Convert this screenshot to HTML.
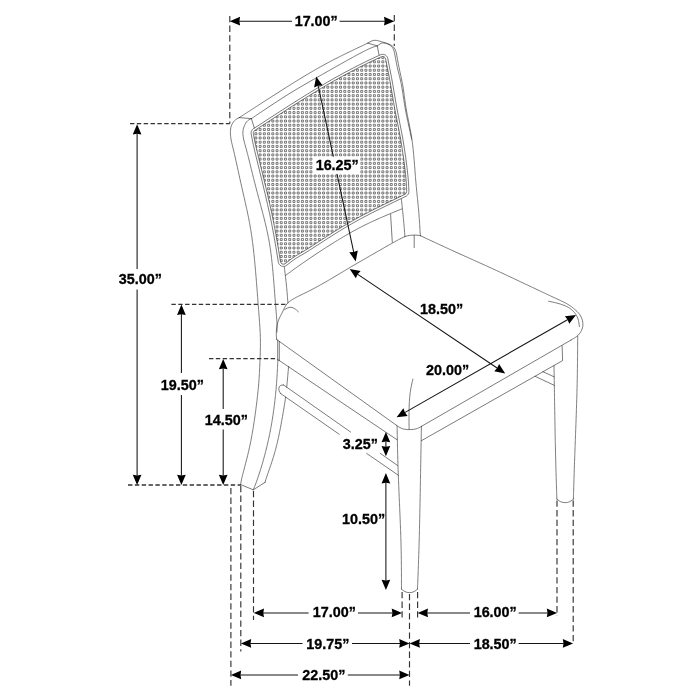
<!DOCTYPE html>
<html>
<head>
<meta charset="utf-8">
<title>Chair dimensions</title>
<style>
html,body{margin:0;padding:0;background:#fff;}
body{width:700px;height:700px;overflow:hidden;}
svg{display:block;will-change:transform;}
text{font-family:"Liberation Sans",sans-serif;font-weight:bold;font-size:14px;fill:#000;stroke:#000;stroke-width:0.3px;text-anchor:middle;}
</style>
</head>
<body>
<svg width="700" height="700" viewBox="0 0 700 700">
<rect width="700" height="700" fill="#fff"/>
<clipPath id="cc"><path d="M254.71 130.48 L254.13 130.97 L253.7 131.56 L253.42 132.23 L253.34 132.66 L253.32 133.1 L253.36 133.56 L254.08 137.59 L254.99 142.2 L255.82 145.99 L257.16 151.65 L264.11 180.23 L267.19 193.07 L269.74 204.11 L271.8 213.47 L273.81 223.25 L275.89 234.37 L278.3 248.26 L280.5 261.82 L280.74 262.52 L281.14 263.14 L281.68 263.65 L282.33 264.01 L283.05 264.19 L283.79 264.2 L284.51 264.02 L285.04 263.75 L291.06 259.11 L293.73 257.21 L295.49 256.05 L298.1 254.47 L303.86 251.12 L306.65 249.41 L312.22 245.88 L326.9 236.37 L334.46 231.56 L341.86 227.01 L349.61 222.44 L355.09 219.35 L359.92 216.71 L364.98 214.03 L371.21 210.82 L383.87 204.53 L405.01 194.3 L405.42 194.06 L405.88 193.67 L406.16 193.32 L406.45 192.8 L406.64 192.23 L406.7 191.63 L406.51 186.38 L406.11 180.19 L405.56 174.35 L404.67 166.61 L403.57 158.21 L402.33 149.63 L401.17 142.36 L400.25 137.05 L399.27 131.78 L395.97 115.28 L394.67 108.42 L393.41 101.29 L390.67 85.11 L389.62 79.22 L388.54 73.59 L385.64 58.99 L385.41 58.27 L385.02 57.64 L384.5 57.13 L383.87 56.76 L383.31 56.59 L382.73 56.52 L382.14 56.57 L381.58 56.73 L374.18 60.07 L368.77 62.63 L359.35 67.31 L349.83 72.23 L341.41 76.75 L333.39 81.23 L326.41 85.27 L318.02 90.25 L309.16 95.63 L300.52 100.98 L292.13 106.27 L283.22 111.98 Z"/></clipPath>
<path d="M377.61 56.57h2v2h-2zM381.84 56.57h2v2h-2zM369.15 60.81h2v2h-2zM373.38 60.81h2v2h-2zM377.61 60.81h2v2h-2zM381.84 60.81h2v2h-2zM386.07 60.81h2v2h-2zM360.68 65.04h2v2h-2zM364.91 65.04h2v2h-2zM369.15 65.04h2v2h-2zM373.38 65.04h2v2h-2zM377.61 65.04h2v2h-2zM381.84 65.04h2v2h-2zM386.07 65.04h2v2h-2zM352.22 69.27h2v2h-2zM356.45 69.27h2v2h-2zM360.68 69.27h2v2h-2zM364.91 69.27h2v2h-2zM369.15 69.27h2v2h-2zM373.38 69.27h2v2h-2zM377.61 69.27h2v2h-2zM381.84 69.27h2v2h-2zM386.07 69.27h2v2h-2zM343.75 73.5h2v2h-2zM347.99 73.5h2v2h-2zM352.22 73.5h2v2h-2zM356.45 73.5h2v2h-2zM360.68 73.5h2v2h-2zM364.91 73.5h2v2h-2zM369.15 73.5h2v2h-2zM373.38 73.5h2v2h-2zM377.61 73.5h2v2h-2zM381.84 73.5h2v2h-2zM386.07 73.5h2v2h-2zM335.29 77.73h2v2h-2zM339.52 77.73h2v2h-2zM343.75 77.73h2v2h-2zM347.99 77.73h2v2h-2zM352.22 77.73h2v2h-2zM356.45 77.73h2v2h-2zM360.68 77.73h2v2h-2zM364.91 77.73h2v2h-2zM369.15 77.73h2v2h-2zM373.38 77.73h2v2h-2zM377.61 77.73h2v2h-2zM381.84 77.73h2v2h-2zM386.07 77.73h2v2h-2zM326.83 81.97h2v2h-2zM331.06 81.97h2v2h-2zM335.29 81.97h2v2h-2zM339.52 81.97h2v2h-2zM343.75 81.97h2v2h-2zM347.99 81.97h2v2h-2zM352.22 81.97h2v2h-2zM356.45 81.97h2v2h-2zM360.68 81.97h2v2h-2zM364.91 81.97h2v2h-2zM369.15 81.97h2v2h-2zM373.38 81.97h2v2h-2zM377.61 81.97h2v2h-2zM381.84 81.97h2v2h-2zM386.07 81.97h2v2h-2zM390.31 81.97h2v2h-2zM322.59 86.2h2v2h-2zM326.83 86.2h2v2h-2zM331.06 86.2h2v2h-2zM335.29 86.2h2v2h-2zM339.52 86.2h2v2h-2zM343.75 86.2h2v2h-2zM347.99 86.2h2v2h-2zM352.22 86.2h2v2h-2zM356.45 86.2h2v2h-2zM360.68 86.2h2v2h-2zM364.91 86.2h2v2h-2zM369.15 86.2h2v2h-2zM373.38 86.2h2v2h-2zM377.61 86.2h2v2h-2zM381.84 86.2h2v2h-2zM386.07 86.2h2v2h-2zM390.31 86.2h2v2h-2zM314.13 90.43h2v2h-2zM318.36 90.43h2v2h-2zM322.59 90.43h2v2h-2zM326.83 90.43h2v2h-2zM331.06 90.43h2v2h-2zM335.29 90.43h2v2h-2zM339.52 90.43h2v2h-2zM343.75 90.43h2v2h-2zM347.99 90.43h2v2h-2zM352.22 90.43h2v2h-2zM356.45 90.43h2v2h-2zM360.68 90.43h2v2h-2zM364.91 90.43h2v2h-2zM369.15 90.43h2v2h-2zM373.38 90.43h2v2h-2zM377.61 90.43h2v2h-2zM381.84 90.43h2v2h-2zM386.07 90.43h2v2h-2zM390.31 90.43h2v2h-2zM305.67 94.66h2v2h-2zM309.9 94.66h2v2h-2zM314.13 94.66h2v2h-2zM318.36 94.66h2v2h-2zM322.59 94.66h2v2h-2zM326.83 94.66h2v2h-2zM331.06 94.66h2v2h-2zM335.29 94.66h2v2h-2zM339.52 94.66h2v2h-2zM343.75 94.66h2v2h-2zM347.99 94.66h2v2h-2zM352.22 94.66h2v2h-2zM356.45 94.66h2v2h-2zM360.68 94.66h2v2h-2zM364.91 94.66h2v2h-2zM369.15 94.66h2v2h-2zM373.38 94.66h2v2h-2zM377.61 94.66h2v2h-2zM381.84 94.66h2v2h-2zM386.07 94.66h2v2h-2zM390.31 94.66h2v2h-2zM301.43 98.89h2v2h-2zM305.67 98.89h2v2h-2zM309.9 98.89h2v2h-2zM314.13 98.89h2v2h-2zM318.36 98.89h2v2h-2zM322.59 98.89h2v2h-2zM326.83 98.89h2v2h-2zM331.06 98.89h2v2h-2zM335.29 98.89h2v2h-2zM339.52 98.89h2v2h-2zM343.75 98.89h2v2h-2zM347.99 98.89h2v2h-2zM352.22 98.89h2v2h-2zM356.45 98.89h2v2h-2zM360.68 98.89h2v2h-2zM364.91 98.89h2v2h-2zM369.15 98.89h2v2h-2zM373.38 98.89h2v2h-2zM377.61 98.89h2v2h-2zM381.84 98.89h2v2h-2zM386.07 98.89h2v2h-2zM390.31 98.89h2v2h-2zM292.97 103.13h2v2h-2zM297.2 103.13h2v2h-2zM301.43 103.13h2v2h-2zM305.67 103.13h2v2h-2zM309.9 103.13h2v2h-2zM314.13 103.13h2v2h-2zM318.36 103.13h2v2h-2zM322.59 103.13h2v2h-2zM326.83 103.13h2v2h-2zM331.06 103.13h2v2h-2zM335.29 103.13h2v2h-2zM339.52 103.13h2v2h-2zM343.75 103.13h2v2h-2zM347.99 103.13h2v2h-2zM352.22 103.13h2v2h-2zM356.45 103.13h2v2h-2zM360.68 103.13h2v2h-2zM364.91 103.13h2v2h-2zM369.15 103.13h2v2h-2zM373.38 103.13h2v2h-2zM377.61 103.13h2v2h-2zM381.84 103.13h2v2h-2zM386.07 103.13h2v2h-2zM390.31 103.13h2v2h-2zM394.54 103.13h2v2h-2zM284.51 107.36h2v2h-2zM288.74 107.36h2v2h-2zM292.97 107.36h2v2h-2zM297.2 107.36h2v2h-2zM301.43 107.36h2v2h-2zM305.67 107.36h2v2h-2zM309.9 107.36h2v2h-2zM314.13 107.36h2v2h-2zM318.36 107.36h2v2h-2zM322.59 107.36h2v2h-2zM326.83 107.36h2v2h-2zM331.06 107.36h2v2h-2zM335.29 107.36h2v2h-2zM339.52 107.36h2v2h-2zM343.75 107.36h2v2h-2zM347.99 107.36h2v2h-2zM352.22 107.36h2v2h-2zM356.45 107.36h2v2h-2zM360.68 107.36h2v2h-2zM364.91 107.36h2v2h-2zM369.15 107.36h2v2h-2zM373.38 107.36h2v2h-2zM377.61 107.36h2v2h-2zM381.84 107.36h2v2h-2zM386.07 107.36h2v2h-2zM390.31 107.36h2v2h-2zM394.54 107.36h2v2h-2zM280.27 111.59h2v2h-2zM284.51 111.59h2v2h-2zM288.74 111.59h2v2h-2zM292.97 111.59h2v2h-2zM297.2 111.59h2v2h-2zM301.43 111.59h2v2h-2zM305.67 111.59h2v2h-2zM309.9 111.59h2v2h-2zM314.13 111.59h2v2h-2zM318.36 111.59h2v2h-2zM322.59 111.59h2v2h-2zM326.83 111.59h2v2h-2zM331.06 111.59h2v2h-2zM335.29 111.59h2v2h-2zM339.52 111.59h2v2h-2zM343.75 111.59h2v2h-2zM347.99 111.59h2v2h-2zM352.22 111.59h2v2h-2zM356.45 111.59h2v2h-2zM360.68 111.59h2v2h-2zM364.91 111.59h2v2h-2zM369.15 111.59h2v2h-2zM373.38 111.59h2v2h-2zM377.61 111.59h2v2h-2zM381.84 111.59h2v2h-2zM386.07 111.59h2v2h-2zM390.31 111.59h2v2h-2zM394.54 111.59h2v2h-2zM271.81 115.82h2v2h-2zM276.04 115.82h2v2h-2zM280.27 115.82h2v2h-2zM284.51 115.82h2v2h-2zM288.74 115.82h2v2h-2zM292.97 115.82h2v2h-2zM297.2 115.82h2v2h-2zM301.43 115.82h2v2h-2zM305.67 115.82h2v2h-2zM309.9 115.82h2v2h-2zM314.13 115.82h2v2h-2zM318.36 115.82h2v2h-2zM322.59 115.82h2v2h-2zM326.83 115.82h2v2h-2zM331.06 115.82h2v2h-2zM335.29 115.82h2v2h-2zM339.52 115.82h2v2h-2zM343.75 115.82h2v2h-2zM347.99 115.82h2v2h-2zM352.22 115.82h2v2h-2zM356.45 115.82h2v2h-2zM360.68 115.82h2v2h-2zM364.91 115.82h2v2h-2zM369.15 115.82h2v2h-2zM373.38 115.82h2v2h-2zM377.61 115.82h2v2h-2zM381.84 115.82h2v2h-2zM386.07 115.82h2v2h-2zM390.31 115.82h2v2h-2zM394.54 115.82h2v2h-2zM267.58 120.05h2v2h-2zM271.81 120.05h2v2h-2zM276.04 120.05h2v2h-2zM280.27 120.05h2v2h-2zM284.51 120.05h2v2h-2zM288.74 120.05h2v2h-2zM292.97 120.05h2v2h-2zM297.2 120.05h2v2h-2zM301.43 120.05h2v2h-2zM305.67 120.05h2v2h-2zM309.9 120.05h2v2h-2zM314.13 120.05h2v2h-2zM318.36 120.05h2v2h-2zM322.59 120.05h2v2h-2zM326.83 120.05h2v2h-2zM331.06 120.05h2v2h-2zM335.29 120.05h2v2h-2zM339.52 120.05h2v2h-2zM343.75 120.05h2v2h-2zM347.99 120.05h2v2h-2zM352.22 120.05h2v2h-2zM356.45 120.05h2v2h-2zM360.68 120.05h2v2h-2zM364.91 120.05h2v2h-2zM369.15 120.05h2v2h-2zM373.38 120.05h2v2h-2zM377.61 120.05h2v2h-2zM381.84 120.05h2v2h-2zM386.07 120.05h2v2h-2zM390.31 120.05h2v2h-2zM394.54 120.05h2v2h-2zM259.11 124.29h2v2h-2zM263.35 124.29h2v2h-2zM267.58 124.29h2v2h-2zM271.81 124.29h2v2h-2zM276.04 124.29h2v2h-2zM280.27 124.29h2v2h-2zM284.51 124.29h2v2h-2zM288.74 124.29h2v2h-2zM292.97 124.29h2v2h-2zM297.2 124.29h2v2h-2zM301.43 124.29h2v2h-2zM305.67 124.29h2v2h-2zM309.9 124.29h2v2h-2zM314.13 124.29h2v2h-2zM318.36 124.29h2v2h-2zM322.59 124.29h2v2h-2zM326.83 124.29h2v2h-2zM331.06 124.29h2v2h-2zM335.29 124.29h2v2h-2zM339.52 124.29h2v2h-2zM343.75 124.29h2v2h-2zM347.99 124.29h2v2h-2zM352.22 124.29h2v2h-2zM356.45 124.29h2v2h-2zM360.68 124.29h2v2h-2zM364.91 124.29h2v2h-2zM369.15 124.29h2v2h-2zM373.38 124.29h2v2h-2zM377.61 124.29h2v2h-2zM381.84 124.29h2v2h-2zM386.07 124.29h2v2h-2zM390.31 124.29h2v2h-2zM394.54 124.29h2v2h-2zM254.88 128.52h2v2h-2zM259.11 128.52h2v2h-2zM263.35 128.52h2v2h-2zM267.58 128.52h2v2h-2zM271.81 128.52h2v2h-2zM276.04 128.52h2v2h-2zM280.27 128.52h2v2h-2zM284.51 128.52h2v2h-2zM288.74 128.52h2v2h-2zM292.97 128.52h2v2h-2zM297.2 128.52h2v2h-2zM301.43 128.52h2v2h-2zM305.67 128.52h2v2h-2zM309.9 128.52h2v2h-2zM314.13 128.52h2v2h-2zM318.36 128.52h2v2h-2zM322.59 128.52h2v2h-2zM326.83 128.52h2v2h-2zM331.06 128.52h2v2h-2zM335.29 128.52h2v2h-2zM339.52 128.52h2v2h-2zM343.75 128.52h2v2h-2zM347.99 128.52h2v2h-2zM352.22 128.52h2v2h-2zM356.45 128.52h2v2h-2zM360.68 128.52h2v2h-2zM364.91 128.52h2v2h-2zM369.15 128.52h2v2h-2zM373.38 128.52h2v2h-2zM377.61 128.52h2v2h-2zM381.84 128.52h2v2h-2zM386.07 128.52h2v2h-2zM390.31 128.52h2v2h-2zM394.54 128.52h2v2h-2zM398.77 128.52h2v2h-2zM254.88 132.75h2v2h-2zM259.11 132.75h2v2h-2zM263.35 132.75h2v2h-2zM267.58 132.75h2v2h-2zM271.81 132.75h2v2h-2zM276.04 132.75h2v2h-2zM280.27 132.75h2v2h-2zM284.51 132.75h2v2h-2zM288.74 132.75h2v2h-2zM292.97 132.75h2v2h-2zM297.2 132.75h2v2h-2zM301.43 132.75h2v2h-2zM305.67 132.75h2v2h-2zM309.9 132.75h2v2h-2zM314.13 132.75h2v2h-2zM318.36 132.75h2v2h-2zM322.59 132.75h2v2h-2zM326.83 132.75h2v2h-2zM331.06 132.75h2v2h-2zM335.29 132.75h2v2h-2zM339.52 132.75h2v2h-2zM343.75 132.75h2v2h-2zM347.99 132.75h2v2h-2zM352.22 132.75h2v2h-2zM356.45 132.75h2v2h-2zM360.68 132.75h2v2h-2zM364.91 132.75h2v2h-2zM369.15 132.75h2v2h-2zM373.38 132.75h2v2h-2zM377.61 132.75h2v2h-2zM381.84 132.75h2v2h-2zM386.07 132.75h2v2h-2zM390.31 132.75h2v2h-2zM394.54 132.75h2v2h-2zM398.77 132.75h2v2h-2zM254.88 136.98h2v2h-2zM259.11 136.98h2v2h-2zM263.35 136.98h2v2h-2zM267.58 136.98h2v2h-2zM271.81 136.98h2v2h-2zM276.04 136.98h2v2h-2zM280.27 136.98h2v2h-2zM284.51 136.98h2v2h-2zM288.74 136.98h2v2h-2zM292.97 136.98h2v2h-2zM297.2 136.98h2v2h-2zM301.43 136.98h2v2h-2zM305.67 136.98h2v2h-2zM309.9 136.98h2v2h-2zM314.13 136.98h2v2h-2zM318.36 136.98h2v2h-2zM322.59 136.98h2v2h-2zM326.83 136.98h2v2h-2zM331.06 136.98h2v2h-2zM335.29 136.98h2v2h-2zM339.52 136.98h2v2h-2zM343.75 136.98h2v2h-2zM347.99 136.98h2v2h-2zM352.22 136.98h2v2h-2zM356.45 136.98h2v2h-2zM360.68 136.98h2v2h-2zM364.91 136.98h2v2h-2zM369.15 136.98h2v2h-2zM373.38 136.98h2v2h-2zM377.61 136.98h2v2h-2zM381.84 136.98h2v2h-2zM386.07 136.98h2v2h-2zM390.31 136.98h2v2h-2zM394.54 136.98h2v2h-2zM398.77 136.98h2v2h-2zM254.88 141.21h2v2h-2zM259.11 141.21h2v2h-2zM263.35 141.21h2v2h-2zM267.58 141.21h2v2h-2zM271.81 141.21h2v2h-2zM276.04 141.21h2v2h-2zM280.27 141.21h2v2h-2zM284.51 141.21h2v2h-2zM288.74 141.21h2v2h-2zM292.97 141.21h2v2h-2zM297.2 141.21h2v2h-2zM301.43 141.21h2v2h-2zM305.67 141.21h2v2h-2zM309.9 141.21h2v2h-2zM314.13 141.21h2v2h-2zM318.36 141.21h2v2h-2zM322.59 141.21h2v2h-2zM326.83 141.21h2v2h-2zM331.06 141.21h2v2h-2zM335.29 141.21h2v2h-2zM339.52 141.21h2v2h-2zM343.75 141.21h2v2h-2zM347.99 141.21h2v2h-2zM352.22 141.21h2v2h-2zM356.45 141.21h2v2h-2zM360.68 141.21h2v2h-2zM364.91 141.21h2v2h-2zM369.15 141.21h2v2h-2zM373.38 141.21h2v2h-2zM377.61 141.21h2v2h-2zM381.84 141.21h2v2h-2zM386.07 141.21h2v2h-2zM390.31 141.21h2v2h-2zM394.54 141.21h2v2h-2zM398.77 141.21h2v2h-2zM254.88 145.45h2v2h-2zM259.11 145.45h2v2h-2zM263.35 145.45h2v2h-2zM267.58 145.45h2v2h-2zM271.81 145.45h2v2h-2zM276.04 145.45h2v2h-2zM280.27 145.45h2v2h-2zM284.51 145.45h2v2h-2zM288.74 145.45h2v2h-2zM292.97 145.45h2v2h-2zM297.2 145.45h2v2h-2zM301.43 145.45h2v2h-2zM305.67 145.45h2v2h-2zM309.9 145.45h2v2h-2zM314.13 145.45h2v2h-2zM318.36 145.45h2v2h-2zM322.59 145.45h2v2h-2zM326.83 145.45h2v2h-2zM331.06 145.45h2v2h-2zM335.29 145.45h2v2h-2zM339.52 145.45h2v2h-2zM343.75 145.45h2v2h-2zM347.99 145.45h2v2h-2zM352.22 145.45h2v2h-2zM356.45 145.45h2v2h-2zM360.68 145.45h2v2h-2zM364.91 145.45h2v2h-2zM369.15 145.45h2v2h-2zM373.38 145.45h2v2h-2zM377.61 145.45h2v2h-2zM381.84 145.45h2v2h-2zM386.07 145.45h2v2h-2zM390.31 145.45h2v2h-2zM394.54 145.45h2v2h-2zM398.77 145.45h2v2h-2zM254.88 149.68h2v2h-2zM259.11 149.68h2v2h-2zM263.35 149.68h2v2h-2zM267.58 149.68h2v2h-2zM271.81 149.68h2v2h-2zM276.04 149.68h2v2h-2zM280.27 149.68h2v2h-2zM284.51 149.68h2v2h-2zM288.74 149.68h2v2h-2zM292.97 149.68h2v2h-2zM297.2 149.68h2v2h-2zM301.43 149.68h2v2h-2zM305.67 149.68h2v2h-2zM309.9 149.68h2v2h-2zM314.13 149.68h2v2h-2zM318.36 149.68h2v2h-2zM322.59 149.68h2v2h-2zM326.83 149.68h2v2h-2zM331.06 149.68h2v2h-2zM335.29 149.68h2v2h-2zM339.52 149.68h2v2h-2zM343.75 149.68h2v2h-2zM347.99 149.68h2v2h-2zM352.22 149.68h2v2h-2zM356.45 149.68h2v2h-2zM360.68 149.68h2v2h-2zM364.91 149.68h2v2h-2zM369.15 149.68h2v2h-2zM373.38 149.68h2v2h-2zM377.61 149.68h2v2h-2zM381.84 149.68h2v2h-2zM386.07 149.68h2v2h-2zM390.31 149.68h2v2h-2zM394.54 149.68h2v2h-2zM398.77 149.68h2v2h-2zM403 149.68h2v2h-2zM259.11 153.91h2v2h-2zM263.35 153.91h2v2h-2zM267.58 153.91h2v2h-2zM271.81 153.91h2v2h-2zM276.04 153.91h2v2h-2zM280.27 153.91h2v2h-2zM284.51 153.91h2v2h-2zM288.74 153.91h2v2h-2zM292.97 153.91h2v2h-2zM297.2 153.91h2v2h-2zM301.43 153.91h2v2h-2zM305.67 153.91h2v2h-2zM309.9 153.91h2v2h-2zM314.13 153.91h2v2h-2zM318.36 153.91h2v2h-2zM322.59 153.91h2v2h-2zM326.83 153.91h2v2h-2zM331.06 153.91h2v2h-2zM335.29 153.91h2v2h-2zM339.52 153.91h2v2h-2zM343.75 153.91h2v2h-2zM347.99 153.91h2v2h-2zM352.22 153.91h2v2h-2zM356.45 153.91h2v2h-2zM360.68 153.91h2v2h-2zM364.91 153.91h2v2h-2zM369.15 153.91h2v2h-2zM373.38 153.91h2v2h-2zM377.61 153.91h2v2h-2zM381.84 153.91h2v2h-2zM386.07 153.91h2v2h-2zM390.31 153.91h2v2h-2zM394.54 153.91h2v2h-2zM398.77 153.91h2v2h-2zM403 153.91h2v2h-2zM259.11 158.14h2v2h-2zM263.35 158.14h2v2h-2zM267.58 158.14h2v2h-2zM271.81 158.14h2v2h-2zM276.04 158.14h2v2h-2zM280.27 158.14h2v2h-2zM284.51 158.14h2v2h-2zM288.74 158.14h2v2h-2zM292.97 158.14h2v2h-2zM297.2 158.14h2v2h-2zM301.43 158.14h2v2h-2zM305.67 158.14h2v2h-2zM309.9 158.14h2v2h-2zM314.13 158.14h2v2h-2zM318.36 158.14h2v2h-2zM322.59 158.14h2v2h-2zM326.83 158.14h2v2h-2zM331.06 158.14h2v2h-2zM335.29 158.14h2v2h-2zM339.52 158.14h2v2h-2zM343.75 158.14h2v2h-2zM347.99 158.14h2v2h-2zM352.22 158.14h2v2h-2zM356.45 158.14h2v2h-2zM360.68 158.14h2v2h-2zM364.91 158.14h2v2h-2zM369.15 158.14h2v2h-2zM373.38 158.14h2v2h-2zM377.61 158.14h2v2h-2zM381.84 158.14h2v2h-2zM386.07 158.14h2v2h-2zM390.31 158.14h2v2h-2zM394.54 158.14h2v2h-2zM398.77 158.14h2v2h-2zM403 158.14h2v2h-2zM259.11 162.37h2v2h-2zM263.35 162.37h2v2h-2zM267.58 162.37h2v2h-2zM271.81 162.37h2v2h-2zM276.04 162.37h2v2h-2zM280.27 162.37h2v2h-2zM284.51 162.37h2v2h-2zM288.74 162.37h2v2h-2zM292.97 162.37h2v2h-2zM297.2 162.37h2v2h-2zM301.43 162.37h2v2h-2zM305.67 162.37h2v2h-2zM309.9 162.37h2v2h-2zM314.13 162.37h2v2h-2zM318.36 162.37h2v2h-2zM322.59 162.37h2v2h-2zM326.83 162.37h2v2h-2zM331.06 162.37h2v2h-2zM335.29 162.37h2v2h-2zM339.52 162.37h2v2h-2zM343.75 162.37h2v2h-2zM347.99 162.37h2v2h-2zM352.22 162.37h2v2h-2zM356.45 162.37h2v2h-2zM360.68 162.37h2v2h-2zM364.91 162.37h2v2h-2zM369.15 162.37h2v2h-2zM373.38 162.37h2v2h-2zM377.61 162.37h2v2h-2zM381.84 162.37h2v2h-2zM386.07 162.37h2v2h-2zM390.31 162.37h2v2h-2zM394.54 162.37h2v2h-2zM398.77 162.37h2v2h-2zM403 162.37h2v2h-2zM259.11 166.61h2v2h-2zM263.35 166.61h2v2h-2zM267.58 166.61h2v2h-2zM271.81 166.61h2v2h-2zM276.04 166.61h2v2h-2zM280.27 166.61h2v2h-2zM284.51 166.61h2v2h-2zM288.74 166.61h2v2h-2zM292.97 166.61h2v2h-2zM297.2 166.61h2v2h-2zM301.43 166.61h2v2h-2zM305.67 166.61h2v2h-2zM309.9 166.61h2v2h-2zM314.13 166.61h2v2h-2zM318.36 166.61h2v2h-2zM322.59 166.61h2v2h-2zM326.83 166.61h2v2h-2zM331.06 166.61h2v2h-2zM335.29 166.61h2v2h-2zM339.52 166.61h2v2h-2zM343.75 166.61h2v2h-2zM347.99 166.61h2v2h-2zM352.22 166.61h2v2h-2zM356.45 166.61h2v2h-2zM360.68 166.61h2v2h-2zM364.91 166.61h2v2h-2zM369.15 166.61h2v2h-2zM373.38 166.61h2v2h-2zM377.61 166.61h2v2h-2zM381.84 166.61h2v2h-2zM386.07 166.61h2v2h-2zM390.31 166.61h2v2h-2zM394.54 166.61h2v2h-2zM398.77 166.61h2v2h-2zM403 166.61h2v2h-2zM263.35 170.84h2v2h-2zM267.58 170.84h2v2h-2zM271.81 170.84h2v2h-2zM276.04 170.84h2v2h-2zM280.27 170.84h2v2h-2zM284.51 170.84h2v2h-2zM288.74 170.84h2v2h-2zM292.97 170.84h2v2h-2zM297.2 170.84h2v2h-2zM301.43 170.84h2v2h-2zM305.67 170.84h2v2h-2zM309.9 170.84h2v2h-2zM314.13 170.84h2v2h-2zM318.36 170.84h2v2h-2zM322.59 170.84h2v2h-2zM326.83 170.84h2v2h-2zM331.06 170.84h2v2h-2zM335.29 170.84h2v2h-2zM339.52 170.84h2v2h-2zM343.75 170.84h2v2h-2zM347.99 170.84h2v2h-2zM352.22 170.84h2v2h-2zM356.45 170.84h2v2h-2zM360.68 170.84h2v2h-2zM364.91 170.84h2v2h-2zM369.15 170.84h2v2h-2zM373.38 170.84h2v2h-2zM377.61 170.84h2v2h-2zM381.84 170.84h2v2h-2zM386.07 170.84h2v2h-2zM390.31 170.84h2v2h-2zM394.54 170.84h2v2h-2zM398.77 170.84h2v2h-2zM403 170.84h2v2h-2zM263.35 175.07h2v2h-2zM267.58 175.07h2v2h-2zM271.81 175.07h2v2h-2zM276.04 175.07h2v2h-2zM280.27 175.07h2v2h-2zM284.51 175.07h2v2h-2zM288.74 175.07h2v2h-2zM292.97 175.07h2v2h-2zM297.2 175.07h2v2h-2zM301.43 175.07h2v2h-2zM305.67 175.07h2v2h-2zM309.9 175.07h2v2h-2zM314.13 175.07h2v2h-2zM318.36 175.07h2v2h-2zM322.59 175.07h2v2h-2zM326.83 175.07h2v2h-2zM331.06 175.07h2v2h-2zM335.29 175.07h2v2h-2zM339.52 175.07h2v2h-2zM343.75 175.07h2v2h-2zM347.99 175.07h2v2h-2zM352.22 175.07h2v2h-2zM356.45 175.07h2v2h-2zM360.68 175.07h2v2h-2zM364.91 175.07h2v2h-2zM369.15 175.07h2v2h-2zM373.38 175.07h2v2h-2zM377.61 175.07h2v2h-2zM381.84 175.07h2v2h-2zM386.07 175.07h2v2h-2zM390.31 175.07h2v2h-2zM394.54 175.07h2v2h-2zM398.77 175.07h2v2h-2zM403 175.07h2v2h-2zM263.35 179.3h2v2h-2zM267.58 179.3h2v2h-2zM271.81 179.3h2v2h-2zM276.04 179.3h2v2h-2zM280.27 179.3h2v2h-2zM284.51 179.3h2v2h-2zM288.74 179.3h2v2h-2zM292.97 179.3h2v2h-2zM297.2 179.3h2v2h-2zM301.43 179.3h2v2h-2zM305.67 179.3h2v2h-2zM309.9 179.3h2v2h-2zM314.13 179.3h2v2h-2zM318.36 179.3h2v2h-2zM322.59 179.3h2v2h-2zM326.83 179.3h2v2h-2zM331.06 179.3h2v2h-2zM335.29 179.3h2v2h-2zM339.52 179.3h2v2h-2zM343.75 179.3h2v2h-2zM347.99 179.3h2v2h-2zM352.22 179.3h2v2h-2zM356.45 179.3h2v2h-2zM360.68 179.3h2v2h-2zM364.91 179.3h2v2h-2zM369.15 179.3h2v2h-2zM373.38 179.3h2v2h-2zM377.61 179.3h2v2h-2zM381.84 179.3h2v2h-2zM386.07 179.3h2v2h-2zM390.31 179.3h2v2h-2zM394.54 179.3h2v2h-2zM398.77 179.3h2v2h-2zM403 179.3h2v2h-2zM263.35 183.53h2v2h-2zM267.58 183.53h2v2h-2zM271.81 183.53h2v2h-2zM276.04 183.53h2v2h-2zM280.27 183.53h2v2h-2zM284.51 183.53h2v2h-2zM288.74 183.53h2v2h-2zM292.97 183.53h2v2h-2zM297.2 183.53h2v2h-2zM301.43 183.53h2v2h-2zM305.67 183.53h2v2h-2zM309.9 183.53h2v2h-2zM314.13 183.53h2v2h-2zM318.36 183.53h2v2h-2zM322.59 183.53h2v2h-2zM326.83 183.53h2v2h-2zM331.06 183.53h2v2h-2zM335.29 183.53h2v2h-2zM339.52 183.53h2v2h-2zM343.75 183.53h2v2h-2zM347.99 183.53h2v2h-2zM352.22 183.53h2v2h-2zM356.45 183.53h2v2h-2zM360.68 183.53h2v2h-2zM364.91 183.53h2v2h-2zM369.15 183.53h2v2h-2zM373.38 183.53h2v2h-2zM377.61 183.53h2v2h-2zM381.84 183.53h2v2h-2zM386.07 183.53h2v2h-2zM390.31 183.53h2v2h-2zM394.54 183.53h2v2h-2zM398.77 183.53h2v2h-2zM403 183.53h2v2h-2zM267.58 187.77h2v2h-2zM271.81 187.77h2v2h-2zM276.04 187.77h2v2h-2zM280.27 187.77h2v2h-2zM284.51 187.77h2v2h-2zM288.74 187.77h2v2h-2zM292.97 187.77h2v2h-2zM297.2 187.77h2v2h-2zM301.43 187.77h2v2h-2zM305.67 187.77h2v2h-2zM309.9 187.77h2v2h-2zM314.13 187.77h2v2h-2zM318.36 187.77h2v2h-2zM322.59 187.77h2v2h-2zM326.83 187.77h2v2h-2zM331.06 187.77h2v2h-2zM335.29 187.77h2v2h-2zM339.52 187.77h2v2h-2zM343.75 187.77h2v2h-2zM347.99 187.77h2v2h-2zM352.22 187.77h2v2h-2zM356.45 187.77h2v2h-2zM360.68 187.77h2v2h-2zM364.91 187.77h2v2h-2zM369.15 187.77h2v2h-2zM373.38 187.77h2v2h-2zM377.61 187.77h2v2h-2zM381.84 187.77h2v2h-2zM386.07 187.77h2v2h-2zM390.31 187.77h2v2h-2zM394.54 187.77h2v2h-2zM398.77 187.77h2v2h-2zM403 187.77h2v2h-2zM267.58 192h2v2h-2zM271.81 192h2v2h-2zM276.04 192h2v2h-2zM280.27 192h2v2h-2zM284.51 192h2v2h-2zM288.74 192h2v2h-2zM292.97 192h2v2h-2zM297.2 192h2v2h-2zM301.43 192h2v2h-2zM305.67 192h2v2h-2zM309.9 192h2v2h-2zM314.13 192h2v2h-2zM318.36 192h2v2h-2zM322.59 192h2v2h-2zM326.83 192h2v2h-2zM331.06 192h2v2h-2zM335.29 192h2v2h-2zM339.52 192h2v2h-2zM343.75 192h2v2h-2zM347.99 192h2v2h-2zM352.22 192h2v2h-2zM356.45 192h2v2h-2zM360.68 192h2v2h-2zM364.91 192h2v2h-2zM369.15 192h2v2h-2zM373.38 192h2v2h-2zM377.61 192h2v2h-2zM381.84 192h2v2h-2zM386.07 192h2v2h-2zM390.31 192h2v2h-2zM394.54 192h2v2h-2zM398.77 192h2v2h-2zM403 192h2v2h-2zM267.58 196.23h2v2h-2zM271.81 196.23h2v2h-2zM276.04 196.23h2v2h-2zM280.27 196.23h2v2h-2zM284.51 196.23h2v2h-2zM288.74 196.23h2v2h-2zM292.97 196.23h2v2h-2zM297.2 196.23h2v2h-2zM301.43 196.23h2v2h-2zM305.67 196.23h2v2h-2zM309.9 196.23h2v2h-2zM314.13 196.23h2v2h-2zM318.36 196.23h2v2h-2zM322.59 196.23h2v2h-2zM326.83 196.23h2v2h-2zM331.06 196.23h2v2h-2zM335.29 196.23h2v2h-2zM339.52 196.23h2v2h-2zM343.75 196.23h2v2h-2zM347.99 196.23h2v2h-2zM352.22 196.23h2v2h-2zM356.45 196.23h2v2h-2zM360.68 196.23h2v2h-2zM364.91 196.23h2v2h-2zM369.15 196.23h2v2h-2zM373.38 196.23h2v2h-2zM377.61 196.23h2v2h-2zM381.84 196.23h2v2h-2zM386.07 196.23h2v2h-2zM390.31 196.23h2v2h-2zM394.54 196.23h2v2h-2zM398.77 196.23h2v2h-2zM267.58 200.46h2v2h-2zM271.81 200.46h2v2h-2zM276.04 200.46h2v2h-2zM280.27 200.46h2v2h-2zM284.51 200.46h2v2h-2zM288.74 200.46h2v2h-2zM292.97 200.46h2v2h-2zM297.2 200.46h2v2h-2zM301.43 200.46h2v2h-2zM305.67 200.46h2v2h-2zM309.9 200.46h2v2h-2zM314.13 200.46h2v2h-2zM318.36 200.46h2v2h-2zM322.59 200.46h2v2h-2zM326.83 200.46h2v2h-2zM331.06 200.46h2v2h-2zM335.29 200.46h2v2h-2zM339.52 200.46h2v2h-2zM343.75 200.46h2v2h-2zM347.99 200.46h2v2h-2zM352.22 200.46h2v2h-2zM356.45 200.46h2v2h-2zM360.68 200.46h2v2h-2zM364.91 200.46h2v2h-2zM369.15 200.46h2v2h-2zM373.38 200.46h2v2h-2zM377.61 200.46h2v2h-2zM381.84 200.46h2v2h-2zM386.07 200.46h2v2h-2zM390.31 200.46h2v2h-2zM267.58 204.69h2v2h-2zM271.81 204.69h2v2h-2zM276.04 204.69h2v2h-2zM280.27 204.69h2v2h-2zM284.51 204.69h2v2h-2zM288.74 204.69h2v2h-2zM292.97 204.69h2v2h-2zM297.2 204.69h2v2h-2zM301.43 204.69h2v2h-2zM305.67 204.69h2v2h-2zM309.9 204.69h2v2h-2zM314.13 204.69h2v2h-2zM318.36 204.69h2v2h-2zM322.59 204.69h2v2h-2zM326.83 204.69h2v2h-2zM331.06 204.69h2v2h-2zM335.29 204.69h2v2h-2zM339.52 204.69h2v2h-2zM343.75 204.69h2v2h-2zM347.99 204.69h2v2h-2zM352.22 204.69h2v2h-2zM356.45 204.69h2v2h-2zM360.68 204.69h2v2h-2zM364.91 204.69h2v2h-2zM369.15 204.69h2v2h-2zM373.38 204.69h2v2h-2zM377.61 204.69h2v2h-2zM381.84 204.69h2v2h-2zM271.81 208.93h2v2h-2zM276.04 208.93h2v2h-2zM280.27 208.93h2v2h-2zM284.51 208.93h2v2h-2zM288.74 208.93h2v2h-2zM292.97 208.93h2v2h-2zM297.2 208.93h2v2h-2zM301.43 208.93h2v2h-2zM305.67 208.93h2v2h-2zM309.9 208.93h2v2h-2zM314.13 208.93h2v2h-2zM318.36 208.93h2v2h-2zM322.59 208.93h2v2h-2zM326.83 208.93h2v2h-2zM331.06 208.93h2v2h-2zM335.29 208.93h2v2h-2zM339.52 208.93h2v2h-2zM343.75 208.93h2v2h-2zM347.99 208.93h2v2h-2zM352.22 208.93h2v2h-2zM356.45 208.93h2v2h-2zM360.68 208.93h2v2h-2zM364.91 208.93h2v2h-2zM369.15 208.93h2v2h-2zM373.38 208.93h2v2h-2zM271.81 213.16h2v2h-2zM276.04 213.16h2v2h-2zM280.27 213.16h2v2h-2zM284.51 213.16h2v2h-2zM288.74 213.16h2v2h-2zM292.97 213.16h2v2h-2zM297.2 213.16h2v2h-2zM301.43 213.16h2v2h-2zM305.67 213.16h2v2h-2zM309.9 213.16h2v2h-2zM314.13 213.16h2v2h-2zM318.36 213.16h2v2h-2zM322.59 213.16h2v2h-2zM326.83 213.16h2v2h-2zM331.06 213.16h2v2h-2zM335.29 213.16h2v2h-2zM339.52 213.16h2v2h-2zM343.75 213.16h2v2h-2zM347.99 213.16h2v2h-2zM352.22 213.16h2v2h-2zM356.45 213.16h2v2h-2zM360.68 213.16h2v2h-2zM364.91 213.16h2v2h-2zM271.81 217.39h2v2h-2zM276.04 217.39h2v2h-2zM280.27 217.39h2v2h-2zM284.51 217.39h2v2h-2zM288.74 217.39h2v2h-2zM292.97 217.39h2v2h-2zM297.2 217.39h2v2h-2zM301.43 217.39h2v2h-2zM305.67 217.39h2v2h-2zM309.9 217.39h2v2h-2zM314.13 217.39h2v2h-2zM318.36 217.39h2v2h-2zM322.59 217.39h2v2h-2zM326.83 217.39h2v2h-2zM331.06 217.39h2v2h-2zM335.29 217.39h2v2h-2zM339.52 217.39h2v2h-2zM343.75 217.39h2v2h-2zM347.99 217.39h2v2h-2zM352.22 217.39h2v2h-2zM356.45 217.39h2v2h-2zM271.81 221.62h2v2h-2zM276.04 221.62h2v2h-2zM280.27 221.62h2v2h-2zM284.51 221.62h2v2h-2zM288.74 221.62h2v2h-2zM292.97 221.62h2v2h-2zM297.2 221.62h2v2h-2zM301.43 221.62h2v2h-2zM305.67 221.62h2v2h-2zM309.9 221.62h2v2h-2zM314.13 221.62h2v2h-2zM318.36 221.62h2v2h-2zM322.59 221.62h2v2h-2zM326.83 221.62h2v2h-2zM331.06 221.62h2v2h-2zM335.29 221.62h2v2h-2zM339.52 221.62h2v2h-2zM343.75 221.62h2v2h-2zM347.99 221.62h2v2h-2zM276.04 225.85h2v2h-2zM280.27 225.85h2v2h-2zM284.51 225.85h2v2h-2zM288.74 225.85h2v2h-2zM292.97 225.85h2v2h-2zM297.2 225.85h2v2h-2zM301.43 225.85h2v2h-2zM305.67 225.85h2v2h-2zM309.9 225.85h2v2h-2zM314.13 225.85h2v2h-2zM318.36 225.85h2v2h-2zM322.59 225.85h2v2h-2zM326.83 225.85h2v2h-2zM331.06 225.85h2v2h-2zM335.29 225.85h2v2h-2zM339.52 225.85h2v2h-2zM343.75 225.85h2v2h-2zM276.04 230.09h2v2h-2zM280.27 230.09h2v2h-2zM284.51 230.09h2v2h-2zM288.74 230.09h2v2h-2zM292.97 230.09h2v2h-2zM297.2 230.09h2v2h-2zM301.43 230.09h2v2h-2zM305.67 230.09h2v2h-2zM309.9 230.09h2v2h-2zM314.13 230.09h2v2h-2zM318.36 230.09h2v2h-2zM322.59 230.09h2v2h-2zM326.83 230.09h2v2h-2zM331.06 230.09h2v2h-2zM335.29 230.09h2v2h-2zM276.04 234.32h2v2h-2zM280.27 234.32h2v2h-2zM284.51 234.32h2v2h-2zM288.74 234.32h2v2h-2zM292.97 234.32h2v2h-2zM297.2 234.32h2v2h-2zM301.43 234.32h2v2h-2zM305.67 234.32h2v2h-2zM309.9 234.32h2v2h-2zM314.13 234.32h2v2h-2zM318.36 234.32h2v2h-2zM322.59 234.32h2v2h-2zM326.83 234.32h2v2h-2zM331.06 234.32h2v2h-2zM276.04 238.55h2v2h-2zM280.27 238.55h2v2h-2zM284.51 238.55h2v2h-2zM288.74 238.55h2v2h-2zM292.97 238.55h2v2h-2zM297.2 238.55h2v2h-2zM301.43 238.55h2v2h-2zM305.67 238.55h2v2h-2zM309.9 238.55h2v2h-2zM314.13 238.55h2v2h-2zM318.36 238.55h2v2h-2zM322.59 238.55h2v2h-2zM276.04 242.78h2v2h-2zM280.27 242.78h2v2h-2zM284.51 242.78h2v2h-2zM288.74 242.78h2v2h-2zM292.97 242.78h2v2h-2zM297.2 242.78h2v2h-2zM301.43 242.78h2v2h-2zM305.67 242.78h2v2h-2zM309.9 242.78h2v2h-2zM314.13 242.78h2v2h-2zM276.04 247.01h2v2h-2zM280.27 247.01h2v2h-2zM284.51 247.01h2v2h-2zM288.74 247.01h2v2h-2zM292.97 247.01h2v2h-2zM297.2 247.01h2v2h-2zM301.43 247.01h2v2h-2zM305.67 247.01h2v2h-2zM309.9 247.01h2v2h-2zM280.27 251.25h2v2h-2zM284.51 251.25h2v2h-2zM288.74 251.25h2v2h-2zM292.97 251.25h2v2h-2zM297.2 251.25h2v2h-2zM301.43 251.25h2v2h-2zM280.27 255.48h2v2h-2zM284.51 255.48h2v2h-2zM288.74 255.48h2v2h-2zM292.97 255.48h2v2h-2zM297.2 255.48h2v2h-2zM280.27 259.71h2v2h-2zM284.51 259.71h2v2h-2zM288.74 259.71h2v2h-2zM280.27 263.94h2v2h-2zM284.51 263.94h2v2h-2z" fill="none" stroke="#3a3a3a" stroke-width="0.65" clip-path="url(#cc)"/>
<g fill="none" stroke="#222" stroke-width="0.6" stroke-linecap="round" stroke-linejoin="round">
<path d="M282.03 110.13 L253.08 128.95 L252.52 129.46 L251.9 130.26 L251.66 130.71 L251.37 131.41 L251.24 131.9 L251.13 132.65 L251.13 133.41 L251.19 133.92 L252.65 141.77 L253.45 145.48 L254.84 151.41 L261.97 180.75 L265.04 193.58 L267.59 204.6 L269.65 213.93 L271.65 223.67 L273.73 234.76 L275.94 247.52 L278.4 262.51 L278.76 263.48 L279 263.93 L279.45 264.56 L279.99 265.11 L280.39 265.43 L281.05 265.84 L281.52 266.05 L282.26 266.28 L282.77 266.37 L283.79 266.41 L284.56 266.3 L285.06 266.16 L285.77 265.87 L286.22 265.61 L292.37 260.88 L294.98 259.01 L296.67 257.9 L299.22 256.37 L304.99 253.01 L309.33 250.33 L330 237 L338.06 231.91 L344.67 227.89 L351.59 223.84 L357.1 220.75 L361.95 218.12 L367.01 215.45 L372.21 212.78 L384.84 206.51 L406.24 196.14 L406.89 195.71 L407.65 194.99 L408.11 194.36 L408.47 193.68 L408.79 192.69 L408.89 191.91 L408.9 191.39 L408.7 186.31 L408.51 182.79 L408.23 179.22 L407.84 175.03 L406.98 167.35 L405.75 157.9 L404.34 148.23 L403 140.01 L401.23 130.35 L398.13 114.85 L396.84 108.02 L395.58 100.92 L392.84 84.73 L391.56 77.65 L387.79 58.55 L387.6 57.82 L387.41 57.35 L387.04 56.68 L386.74 56.27 L386.22 55.71 L385.83 55.38 L385.41 55.09 L384.73 54.74 L383.77 54.43 L383.01 54.33 L382.25 54.34 L381.25 54.52 L380.53 54.79 L372.24 58.55 L363.74 62.65 L353.61 67.78 L344.05 72.81 L334.94 77.82 L327.05 82.35 L318.45 87.42 L309.66 92.74 L300.25 98.56 L291.92 103.8 Z"/>
<path d="M254.71 130.48 L254.13 130.97 L253.7 131.56 L253.42 132.23 L253.34 132.66 L253.32 133.1 L253.36 133.56 L254.08 137.59 L254.99 142.2 L255.82 145.99 L257.16 151.65 L264.11 180.23 L267.19 193.07 L269.74 204.11 L271.8 213.47 L273.81 223.25 L275.89 234.37 L278.3 248.26 L280.5 261.82 L280.74 262.52 L281.14 263.14 L281.68 263.65 L282.33 264.01 L283.05 264.19 L283.79 264.2 L284.51 264.02 L285.04 263.75 L291.06 259.11 L293.73 257.21 L295.49 256.05 L298.1 254.47 L303.86 251.12 L306.65 249.41 L312.22 245.88 L326.9 236.37 L334.46 231.56 L341.86 227.01 L349.61 222.44 L355.09 219.35 L359.92 216.71 L364.98 214.03 L371.21 210.82 L383.87 204.53 L405.01 194.3 L405.42 194.06 L405.88 193.67 L406.16 193.32 L406.45 192.8 L406.64 192.23 L406.7 191.63 L406.51 186.38 L406.11 180.19 L405.56 174.35 L404.67 166.61 L403.57 158.21 L402.33 149.63 L401.17 142.36 L400.25 137.05 L399.27 131.78 L395.97 115.28 L394.67 108.42 L393.41 101.29 L390.67 85.11 L389.62 79.22 L388.54 73.59 L385.64 58.99 L385.41 58.27 L385.02 57.64 L384.5 57.13 L383.87 56.76 L383.31 56.59 L382.73 56.52 L382.14 56.57 L381.58 56.73 L374.18 60.07 L368.77 62.63 L359.35 67.31 L349.83 72.23 L341.41 76.75 L333.39 81.23 L326.41 85.27 L318.02 90.25 L309.16 95.63 L300.52 100.98 L292.13 106.27 L283.22 111.98 Z"/>
<path d="M239.3 117.6 L237.98 118.26 L236.69 118.98 L235.5 119.8 L234.42 120.78 L233.45 121.92 L232.6 123.2 L232.06 124.19 L231.58 125.25 L231.17 126.4 L230.84 127.65 L230.6 129 L230.48 130.16 L230.42 131.37 L230.41 132.62 L230.45 133.9 L230.54 135.2 L230.66 136.49 L230.82 137.76 L231 139 L231.19 140.13 L231.41 141.24 L231.65 142.35 L231.9 143.47 L232.18 144.63 L232.48 145.84 L232.8 147.13 L233.14 148.51 L233.5 150 L233.71 150.88 L233.93 151.8 L234.15 152.76 L234.38 153.75 L234.61 154.77 L234.85 155.83 L235.1 156.91 L235.35 158.03 L235.61 159.17 L235.87 160.34 L236.13 161.53 L236.4 162.74 L236.67 163.97 L236.94 165.22 L237.22 166.49 L237.5 167.77 L237.79 169.07 L238.07 170.37 L238.36 171.69 L238.65 173.01 L238.94 174.34 L239.23 175.68 L239.53 177.01 L239.82 178.35 L240.12 179.69 L240.41 181.02 L240.71 182.36 L241 183.68 L241.3 185 L241.59 186.31 L241.89 187.61 L242.18 188.9 L242.47 190.18 L242.76 191.46 L243.05 192.72 L243.34 193.98 L243.62 195.23 L243.91 196.48 L244.19 197.71 L244.47 198.94 L244.75 200.16 L245.02 201.37 L245.29 202.58 L245.56 203.78 L245.83 204.98 L246.1 206.16 L246.36 207.35 L246.62 208.52 L246.87 209.69 L247.12 210.86 L247.37 212.02 L247.62 213.17 L247.86 214.32 L248.09 215.47 L248.33 216.61 L248.56 217.74 L248.78 218.87 L249 220 L249.23 221.2 L249.45 222.39 L249.67 223.59 L249.89 224.78 L250.1 225.96 L250.3 227.15 L250.5 228.33 L250.7 229.51 L250.89 230.7 L251.08 231.88 L251.26 233.06 L251.45 234.25 L251.62 235.43 L251.79 236.62 L251.96 237.81 L252.13 239.01 L252.29 240.21 L252.45 241.41 L252.61 242.62 L252.77 243.83 L252.92 245.05 L253.07 246.28 L253.21 247.51 L253.36 248.75 L253.5 250 L253.63 251.17 L253.76 252.34 L253.89 253.52 L254.01 254.7 L254.13 255.89 L254.26 257.09 L254.38 258.29 L254.5 259.49 L254.61 260.7 L254.73 261.92 L254.84 263.13 L254.96 264.35 L255.07 265.57 L255.18 266.79 L255.29 268.01 L255.4 269.23 L255.5 270.46 L255.61 271.68 L255.71 272.9 L255.82 274.12 L255.92 275.34 L256.02 276.56 L256.12 277.78 L256.22 278.99 L256.32 280.2 L256.41 281.41 L256.51 282.61 L256.61 283.81 L256.7 285 L256.8 286.27 L256.9 287.54 L257 288.8 L257.1 290.06 L257.19 291.31 L257.29 292.55 L257.39 293.79 L257.48 295.02 L257.57 296.24 L257.67 297.46 L257.76 298.67 L257.85 299.88 L257.94 301.08 L258.03 302.27 L258.12 303.46 L258.21 304.64 L258.3 305.82 L258.39 306.99 L258.48 308.15 L258.57 309.31 L258.65 310.46 L258.74 311.6 L258.83 312.74 L258.91 313.87 L259 315 L259.1 316.28 L259.19 317.55 L259.29 318.81 L259.38 320.07 L259.48 321.32 L259.57 322.57 L259.65 323.81 L259.74 325.06 L259.82 326.3 L259.9 327.53 L259.97 328.77 L260.04 330.01 L260.11 331.25 L260.17 332.49 L260.22 333.73 L260.27 334.98 L260.31 336.22 L260.35 337.48 L260.38 338.74 L260.4 340 L260.41 341.27 L260.42 342.54 L260.42 343.82 L260.42 345.1 L260.41 346.39 L260.39 347.67 L260.37 348.95 L260.34 350.23 L260.31 351.51 L260.27 352.79 L260.24 354.05 L260.19 355.31 L260.15 356.57 L260.1 357.81 L260.05 359.04 L260 360.26 L259.95 361.47 L259.9 362.66 L259.85 363.84 L259.8 365 L259.74 366.28 L259.69 367.54 L259.63 368.78 L259.57 370.01 L259.51 371.23 L259.45 372.45 L259.39 373.66 L259.32 374.88 L259.25 376.09 L259.17 377.32 L259.09 378.55 L259.01 379.8 L258.92 381.07 L258.82 382.35 L258.71 383.66 L258.6 385 L258.5 386.08 L258.4 387.18 L258.3 388.3 L258.19 389.44 L258.07 390.59 L257.95 391.76 L257.83 392.94 L257.7 394.13 L257.57 395.34 L257.43 396.56 L257.29 397.79 L257.15 399.03 L257 400.28 L256.85 401.53 L256.7 402.8 L256.54 404.07 L256.38 405.35 L256.22 406.63 L256.05 407.92 L255.88 409.21 L255.71 410.51 L255.54 411.81 L255.36 413.1 L255.18 414.4 L255 415.7 L254.84 416.87 L254.67 418.04 L254.5 419.21 L254.33 420.38 L254.16 421.55 L253.98 422.72 L253.8 423.89 L253.62 425.06 L253.44 426.23 L253.25 427.4 L253.06 428.58 L252.87 429.75 L252.67 430.93 L252.47 432.11 L252.27 433.29 L252.06 434.47 L251.84 435.66 L251.63 436.85 L251.4 438.04 L251.18 439.23 L250.94 440.43 L250.71 441.63 L250.46 442.84 L250.22 444.05 L249.96 445.26 L249.7 446.48 L249.44 447.7 L249.16 448.93 L248.89 450.16 L248.6 451.4 L248.27 452.8 L247.93 454.21 L247.59 455.61 L247.25 457.02 L246.9 458.42 L246.54 459.81 L246.19 461.19 L245.84 462.56 L245.49 463.91 L245.14 465.24 L244.8 466.54 L244.47 467.82 L244.14 469.07 L243.82 470.29 L243.51 471.47 L243.21 472.61 L242.93 473.71 L242.66 474.77 L242.4 475.78 L242.16 476.74 L241.94 477.64 L241.74 478.49 L241.56 479.28 L241.4 480 L241.04 481.9 L240.83 483.36 L240.7 484.6 M251.4 118.6 L250.05 119.24 L248.76 119.95 L247.6 120.8 L246.61 121.85 L245.76 123.09 L245 124.5 L244.48 125.61 L244 126.78 L243.57 128.03 L243.23 129.33 L243 130.7 L242.89 132.03 L242.88 133.4 L242.96 134.8 L243.12 136.2 L243.33 137.61 L243.6 139 L243.83 140.07 L244.09 141.15 L244.37 142.23 L244.66 143.36 L244.99 144.53 L245.33 145.76 L245.7 147.07 L246.09 148.48 L246.5 150 L246.73 150.86 L246.97 151.76 L247.21 152.69 L247.46 153.65 L247.71 154.64 L247.97 155.66 L248.24 156.71 L248.51 157.79 L248.79 158.89 L249.07 160.01 L249.35 161.15 L249.64 162.31 L249.93 163.49 L250.23 164.69 L250.53 165.91 L250.83 167.14 L251.14 168.38 L251.45 169.63 L251.76 170.89 L252.07 172.16 L252.39 173.44 L252.71 174.72 L253.03 176.01 L253.35 177.3 L253.67 178.59 L254 179.88 L254.32 181.16 L254.65 182.45 L254.97 183.73 L255.3 185 L255.63 186.27 L255.95 187.53 L256.28 188.78 L256.6 190.02 L256.93 191.26 L257.25 192.48 L257.57 193.71 L257.9 194.92 L258.22 196.13 L258.54 197.33 L258.86 198.52 L259.17 199.7 L259.49 200.88 L259.8 202.06 L260.12 203.22 L260.43 204.38 L260.73 205.54 L261.04 206.68 L261.34 207.82 L261.65 208.96 L261.94 210.09 L262.24 211.21 L262.53 212.33 L262.82 213.44 L263.11 214.55 L263.4 215.65 L263.68 216.74 L263.96 217.83 L264.23 218.92 L264.5 220 L264.79 221.19 L265.08 222.37 L265.37 223.54 L265.65 224.72 L265.93 225.89 L266.2 227.06 L266.46 228.22 L266.73 229.39 L266.98 230.56 L267.24 231.73 L267.49 232.9 L267.73 234.07 L267.97 235.25 L268.21 236.44 L268.44 237.62 L268.66 238.82 L268.89 240.02 L269.1 241.23 L269.32 242.45 L269.52 243.68 L269.73 244.92 L269.93 246.17 L270.12 247.43 L270.31 248.71 L270.5 250 L270.67 251.2 L270.83 252.41 L270.99 253.63 L271.15 254.86 L271.3 256.09 L271.45 257.34 L271.59 258.59 L271.74 259.85 L271.88 261.11 L272.01 262.37 L272.15 263.64 L272.28 264.91 L272.4 266.18 L272.53 267.46 L272.65 268.73 L272.77 269.99 L272.89 271.26 L273 272.52 L273.11 273.78 L273.22 275.03 L273.33 276.27 L273.43 277.51 L273.54 278.73 L273.64 279.95 L273.74 281.16 L273.83 282.35 L273.93 283.54 L274.02 284.71 L274.11 285.86 L274.2 287 L274.31 288.39 L274.42 289.76 L274.52 291.11 L274.62 292.43 L274.72 293.73 L274.82 295.01 L274.92 296.27 L275.02 297.51 L275.11 298.73 L275.2 299.93 L275.29 301.11 L275.38 302.27 L275.47 303.42 L275.56 304.55 L275.65 305.67 L275.74 306.77 L275.83 307.86 L275.91 308.94 L276 310 L276.12 311.42 L276.23 312.81 L276.34 314.18 L276.45 315.52 L276.56 316.83 L276.65 318.11 L276.74 319.36 L276.83 320.58 L276.9 321.76 L276.95 322.9 L277 324 L277.04 325.46 L277.06 326.85 L277.06 328.18 L277.05 329.48 L277.03 330.75 L277 332 M277.9 360 L277.84 361.22 L277.78 362.45 L277.72 363.67 L277.65 364.9 L277.59 366.12 L277.53 367.35 L277.46 368.58 L277.39 369.82 L277.33 371.06 L277.26 372.3 L277.18 373.54 L277.11 374.79 L277.03 376.05 L276.95 377.31 L276.87 378.57 L276.78 379.84 L276.69 381.12 L276.6 382.41 L276.5 383.7 L276.4 385 L276.31 386.16 L276.21 387.33 L276.11 388.51 L276.01 389.69 L275.9 390.87 L275.79 392.07 L275.67 393.26 L275.55 394.47 L275.43 395.68 L275.31 396.89 L275.18 398.11 L275.04 399.34 L274.9 400.57 L274.76 401.81 L274.61 403.05 L274.46 404.29 L274.31 405.54 L274.15 406.8 L273.98 408.06 L273.81 409.32 L273.64 410.59 L273.46 411.86 L273.28 413.14 L273.09 414.42 L272.9 415.7 L272.72 416.86 L272.54 418.03 L272.35 419.2 L272.16 420.38 L271.97 421.55 L271.77 422.73 L271.56 423.91 L271.36 425.09 L271.15 426.28 L270.93 427.46 L270.71 428.65 L270.49 429.84 L270.26 431.03 L270.02 432.23 L269.79 433.42 L269.55 434.62 L269.3 435.81 L269.05 437.01 L268.8 438.21 L268.54 439.41 L268.27 440.6 L268.01 441.8 L267.73 443 L267.46 444.2 L267.18 445.4 L266.89 446.6 L266.6 447.8 L266.3 449 L266 450.2 L265.7 451.4 L265.35 452.76 L264.99 454.11 L264.64 455.46 L264.27 456.8 L263.9 458.13 L263.53 459.46 L263.16 460.78 L262.79 462.08 L262.41 463.37 L262.04 464.65 L261.66 465.91 L261.29 467.14 L260.92 468.36 L260.55 469.56 L260.18 470.74 L259.81 471.89 L259.45 473.01 L259.1 474.11 L258.75 475.17 L258.4 476.21 L258.07 477.21 L257.74 478.18 L257.41 479.11 L257.1 480 L256.56 481.5 L256.05 482.88 L255.56 484.18 L255.09 485.4 L254.63 486.55 L254.18 487.66 L253.74 488.74 L253.3 489.8 M284.3 267.1 L284.45 268.29 L284.6 269.49 L284.75 270.68 L284.9 271.87 L285.04 273.06 L285.19 274.26 L285.33 275.45 L285.48 276.64 L285.62 277.84 L285.76 279.03 L285.89 280.22 L286.02 281.42 L286.15 282.61 L286.28 283.81 L286.4 285 L286.53 286.28 L286.65 287.56 L286.77 288.83 L286.88 290.11 L286.99 291.39 L287.1 292.67 L287.21 293.95 L287.31 295.23 L287.41 296.5 L287.51 297.78 L287.61 299.06 L287.71 300.34 L287.8 301.62 L287.9 302.9 M288.6 366.4 L288.48 367.73 L288.37 369.06 L288.26 370.38 L288.14 371.68 L288.03 372.97 L287.92 374.23 L287.81 375.46 L287.7 376.66 L287.6 377.82 L287.5 378.93 L287.4 380 L287.27 381.34 L287.15 382.61 L287.04 383.81 L286.92 384.97 L286.81 386.09 L286.7 387.2 M285.6 397 L285.46 398.15 L285.27 399.54 L285 401.4 L284.89 402.13 L284.76 402.93 L284.63 403.8 L284.48 404.73 L284.32 405.71 L284.15 406.75 L283.97 407.83 L283.79 408.97 L283.59 410.14 L283.38 411.35 L283.17 412.59 L282.95 413.86 L282.73 415.16 L282.5 416.48 L282.26 417.82 L282.02 419.17 L281.78 420.53 L281.53 421.9 L281.28 423.27 L281.02 424.63 L280.77 425.99 L280.51 427.34 L280.26 428.68 L280 430 L279.74 431.31 L279.48 432.59 L279.23 433.86 L278.97 435.11 L278.71 436.34 L278.45 437.56 L278.18 438.77 L277.91 439.96 L277.64 441.14 L277.37 442.32 L277.09 443.48 L276.81 444.64 L276.52 445.8 L276.23 446.95 L275.93 448.1 L275.63 449.25 L275.32 450.4 L275 451.55 L274.67 452.71 L274.33 453.87 L273.99 455.04 L273.64 456.22 L273.27 457.4 L272.9 458.6 L272.45 460.01 L271.99 461.44 L271.52 462.86 L271.05 464.29 L270.58 465.7 L270.1 467.09 L269.64 468.47 L269.17 469.81 L268.73 471.11 L268.29 472.37 L267.87 473.57 L267.47 474.72 L267.1 475.81 L266.75 476.82 L266.44 477.75 L266.15 478.59 L265.91 479.35 L265.7 480 L265.1 482.3 M240.7 484.6 L253.3 489.8 L265.1 482.3 M239.3 117.6 L240.32 116.94 L241.33 116.28 L242.35 115.62 L243.37 114.96 L244.39 114.29 L245.4 113.63 L246.42 112.97 L247.44 112.31 L248.46 111.65 L249.48 110.99 L250.49 110.33 L251.51 109.67 L252.53 109.01 L253.55 108.35 L254.56 107.69 L255.58 107.03 L256.6 106.37 L257.62 105.71 L258.64 105.05 L259.66 104.39 L260.68 103.74 L261.69 103.08 L262.71 102.42 L263.73 101.76 L264.75 101.11 L265.77 100.45 L266.79 99.79 L267.81 99.14 L268.83 98.48 L269.85 97.83 L270.87 97.17 L271.89 96.52 L272.91 95.86 L273.93 95.21 L274.95 94.56 L275.97 93.9 L276.99 93.25 L278.01 92.6 L279.03 91.95 L280.06 91.3 L281.08 90.65 L282.1 90 L283.14 89.34 L284.18 88.68 L285.21 88.03 L286.25 87.37 L287.29 86.71 L288.33 86.06 L289.37 85.41 L290.41 84.75 L291.45 84.1 L292.49 83.45 L293.53 82.8 L294.57 82.16 L295.61 81.51 L296.66 80.87 L297.7 80.22 L298.74 79.58 L299.79 78.94 L300.83 78.31 L301.87 77.67 L302.92 77.04 L303.96 76.41 L305.01 75.78 L306.06 75.15 L307.1 74.52 L308.15 73.9 L309.2 73.28 L310.25 72.66 L311.3 72.05 L312.35 71.43 L313.4 70.82 L314.45 70.21 L315.5 69.61 L316.55 69.01 L317.61 68.41 L318.66 67.81 L319.72 67.22 L320.77 66.63 L321.83 66.04 L322.88 65.46 L323.94 64.88 L325 64.3 L326.09 63.71 L327.18 63.12 L328.27 62.54 L329.36 61.96 L330.45 61.39 L331.55 60.81 L332.64 60.24 L333.74 59.68 L334.83 59.11 L335.93 58.55 L337.03 58 L338.12 57.44 L339.22 56.89 L340.32 56.34 L341.42 55.79 L342.52 55.24 L343.62 54.7 L344.72 54.16 L345.82 53.62 L346.92 53.08 L348.02 52.55 L349.12 52.01 L350.23 51.48 L351.33 50.95 L352.43 50.42 L353.54 49.89 L354.64 49.36 L355.74 48.84 L356.85 48.31 L357.95 47.79 L359.06 47.27 L360.16 46.74 L361.27 46.22 L362.37 45.7 L363.48 45.18 L364.58 44.66 L365.69 44.14 L366.79 43.62 L367.9 43.1 M251.4 118.6 L252.44 117.9 L253.47 117.2 L254.51 116.5 L255.54 115.8 L256.58 115.1 L257.61 114.41 L258.65 113.71 L259.68 113.01 L260.71 112.32 L261.75 111.63 L262.78 110.93 L263.81 110.24 L264.84 109.55 L265.86 108.87 L266.89 108.18 L267.91 107.5 L268.94 106.82 L269.96 106.14 L270.98 105.47 L272 104.79 L273.02 104.12 L274.03 103.45 L275.05 102.79 L276.06 102.13 L277.07 101.47 L278.07 100.82 L279.08 100.17 L280.08 99.52 L281.08 98.88 L282.08 98.24 L283.07 97.6 L284.06 96.97 L285.05 96.35 L286.04 95.73 L287.02 95.11 L288 94.5 L288.99 93.88 L289.98 93.27 L290.97 92.66 L291.96 92.06 L292.94 91.46 L293.93 90.86 L294.91 90.27 L295.9 89.68 L296.89 89.09 L297.88 88.5 L298.87 87.91 L299.87 87.32 L300.87 86.73 L301.87 86.14 L302.88 85.55 L303.89 84.96 L304.91 84.37 L305.94 83.78 L306.97 83.18 L308.02 82.58 L309.07 81.97 L310.13 81.37 L311.2 80.75 L312.28 80.14 L313.37 79.51 L314.47 78.88 L315.58 78.25 L316.71 77.61 L317.85 76.96 L319 76.31 L320.17 75.64 L321.35 74.97 L322.55 74.29 L323.77 73.6 L325 72.9 L326.14 72.25 L327.29 71.6 L328.45 70.94 L329.62 70.27 L330.81 69.6 L332 68.93 L333.2 68.25 L334.4 67.56 L335.61 66.88 L336.82 66.19 L338.03 65.51 L339.25 64.82 L340.46 64.14 L341.68 63.46 L342.89 62.78 L344.09 62.1 L345.29 61.43 L346.49 60.76 L347.67 60.1 L348.85 59.45 L350.02 58.8 L351.18 58.16 L352.32 57.54 L353.45 56.92 L354.56 56.31 L355.66 55.71 L356.74 55.13 L357.8 54.56 L358.84 54 L359.86 53.46 L360.86 52.93 L361.84 52.42 L362.79 51.93 L363.71 51.46 L364.6 51 L365.47 50.56 L366.31 50.15 L367.11 49.75 L367.89 49.38 L368.63 49.03 L369.33 48.7 L370 48.4 L371.64 47.7 L373.04 47.15 L374.27 46.73 L375.36 46.4 L376.35 46.14 L377.3 45.9 M239.3 117.6 L251.4 118.6 L254.3 127.9 M367.9 43.1 L377.3 45.9 L379 54.9 M367.9 43.1 L369.4 42.16 L371 41.3 L372.27 40.79 L373.64 40.43 L375.1 40.3 L376.21 40.37 L377.35 40.57 L378.55 40.86 L379.8 41.21 L381.1 41.6 L382.4 41.98 L383.74 42.37 L385.08 42.77 L386.4 43.19 L387.68 43.63 L388.9 44.1 L390.29 44.72 L391.54 45.42 L392.65 46.2 L393.6 47.1 L394.35 48.06 L394.97 49.11 L395.48 50.23 L395.9 51.4 L396.26 52.71 L396.56 54.07 L396.83 55.53 L397.1 57.1 L397.3 58.25 L397.52 59.47 L397.75 60.74 L398 62.06 L398.25 63.43 L398.53 64.82 L398.81 66.25 L399.1 67.7 L399.36 68.96 L399.62 70.23 L399.89 71.5 L400.16 72.76 L400.43 74.02 L400.69 75.26 L400.96 76.49 L401.21 77.69 L401.46 78.86 L401.7 80 L401.96 81.24 L402.2 82.45 L402.43 83.64 L402.65 84.84 L402.87 86.06 L403.08 87.32 L403.29 88.62 L403.5 90 L403.65 91.02 L403.8 92.08 L403.95 93.18 L404.1 94.32 L404.25 95.49 L404.42 96.7 L404.58 97.93 L404.75 99.19 L404.93 100.48 L405.11 101.78 L405.3 103.11 L405.5 104.46 L405.71 105.83 L405.93 107.21 L406.16 108.6 L406.4 110 L406.6 111.11 L406.8 112.22 L407.01 113.34 L407.23 114.46 L407.45 115.59 L407.67 116.73 L407.9 117.87 L408.14 119.02 L408.37 120.18 L408.61 121.34 L408.85 122.52 L409.09 123.7 L409.33 124.89 L409.57 126.09 L409.8 127.3 L410.04 128.52 L410.28 129.75 L410.51 130.99 L410.74 132.24 L410.96 133.5 L411.18 134.78 L411.39 136.07 L411.6 137.36 L411.8 138.68 L412 140 L412.16 141.16 L412.32 142.33 L412.47 143.51 L412.62 144.7 L412.77 145.9 L412.9 147.1 L413.04 148.31 L413.17 149.53 L413.29 150.75 L413.42 151.97 L413.53 153.2 L413.65 154.43 L413.76 155.67 L413.87 156.91 L413.98 158.15 L414.08 159.39 L414.18 160.63 L414.28 161.87 L414.38 163.1 L414.48 164.34 L414.57 165.58 L414.67 166.81 L414.76 168.04 L414.86 169.26 L414.95 170.48 L415.04 171.7 L415.13 172.91 L415.23 174.11 L415.32 175.3 L415.41 176.49 L415.51 177.67 L415.6 178.84 L415.7 180 L415.81 181.31 L415.93 182.62 L416.04 183.91 L416.16 185.18 L416.28 186.45 L416.4 187.7 L416.52 188.95 L416.64 190.18 L416.77 191.4 L416.89 192.62 L417.01 193.82 L417.13 195.02 L417.25 196.21 L417.37 197.39 L417.49 198.56 L417.61 199.73 L417.73 200.89 L417.85 202.05 L417.96 203.2 L418.07 204.34 L418.18 205.48 L418.29 206.61 L418.4 207.75 L418.5 208.87 L418.6 210 L418.71 211.23 L418.81 212.45 L418.91 213.68 L419 214.9 L419.09 216.12 L419.18 217.33 L419.27 218.55 L419.35 219.76 L419.44 220.97 L419.52 222.18 L419.59 223.38 L419.67 224.59 L419.74 225.79 L419.82 227 L419.89 228.2 L419.96 229.4 L420.03 230.6 L420.1 231.8 L420.16 233 L420.23 234.2 L420.3 235.4 M377.3 45.9 L378.66 44.92 L380 44 L381.31 43.26 L382.9 42.9 L384.08 42.97 L385.4 43.23 L386.77 43.66 L388.13 44.23 L389.4 44.9 L390.63 45.74 L391.67 46.67 L392.52 47.69 L393.2 48.8 L393.66 49.83 L394.04 50.95 L394.35 52.15 L394.63 53.47 L394.9 54.9 L395.1 56.01 L395.32 57.17 L395.54 58.39 L395.78 59.66 L396.02 60.95 L396.28 62.28 L396.54 63.63 L396.82 64.98 L397.1 66.34 L397.4 67.7 L397.7 69.02 L398.01 70.33 L398.33 71.63 L398.64 72.9 L398.95 74.15 L399.26 75.38 L399.57 76.58 L399.86 77.75 L400.14 78.89 L400.4 80 L400.67 81.2 L400.93 82.38 L401.17 83.55 L401.4 84.74 L401.62 85.96 L401.84 87.23 L402.07 88.57 L402.3 90 L402.47 91.07 L402.65 92.19 L402.83 93.36 L403.01 94.56 L403.2 95.8 L403.4 97.06 L403.59 98.35 L403.8 99.65 L404 100.96 L404.21 102.28 L404.42 103.6 L404.63 104.91 L404.85 106.22 L405.06 107.5 L405.28 108.76 L405.5 110 L405.76 111.39 L406.01 112.75 L406.27 114.07 L406.53 115.35 L406.78 116.61 L407.04 117.85 L407.3 119.06 L407.56 120.26 L407.82 121.45 L408.08 122.64 L408.34 123.82 L408.6 125 L408.87 126.25 L409.15 127.51 L409.42 128.77 L409.69 130.04 L409.97 131.31 L410.24 132.59 L410.51 133.87 L410.78 135.15 L411.06 136.43 L411.33 137.72 L411.6 139 M401.4 199.4 L401.53 200.61 L401.66 201.83 L401.79 203.04 L401.93 204.25 L402.06 205.47 L402.18 206.67 L402.31 207.88 L402.44 209.09 L402.57 210.29 L402.69 211.49 L402.81 212.68 L402.94 213.88 L403.05 215.06 L403.17 216.25 L403.29 217.43 L403.4 218.6 L403.52 219.87 L403.64 221.13 L403.75 222.39 L403.86 223.64 L403.97 224.89 L404.08 226.14 L404.19 227.38 L404.29 228.62 L404.39 229.85 L404.5 231.08 L404.6 232.31 L404.7 233.54 L404.8 234.77 L404.9 236 M285.5 275.5 L286.44 274.81 L287.38 274.11 L288.33 273.42 L289.28 272.71 L290.25 272 L291.23 271.28 L292.23 270.55 L293.26 269.81 L294.3 269.06 L295.38 268.28 L296.48 267.49 L297.62 266.68 L298.79 265.85 L300 265 L300.83 264.42 L301.67 263.83 L302.53 263.23 L303.41 262.62 L304.3 262.01 L305.21 261.38 L306.13 260.75 L307.07 260.1 L308.02 259.46 L308.98 258.8 L309.96 258.14 L310.94 257.47 L311.94 256.8 L312.95 256.12 L313.97 255.44 L315 254.75 L316.03 254.06 L317.08 253.37 L318.13 252.68 L319.19 251.98 L320.25 251.28 L321.32 250.58 L322.4 249.88 L323.47 249.18 L324.56 248.48 L325.64 247.78 L326.73 247.08 L327.82 246.39 L328.91 245.69 L330 245 L331.05 244.34 L332.1 243.68 L333.15 243.02 L334.19 242.37 L335.24 241.72 L336.29 241.07 L337.34 240.43 L338.39 239.79 L339.44 239.15 L340.49 238.52 L341.54 237.89 L342.6 237.26 L343.65 236.64 L344.7 236.02 L345.76 235.4 L346.81 234.79 L347.87 234.18 L348.93 233.58 L349.99 232.98 L351.05 232.38 L352.11 231.79 L353.17 231.2 L354.24 230.61 L355.31 230.03 L356.38 229.45 L357.45 228.88 L358.52 228.31 L359.59 227.75 L360.67 227.19 L361.75 226.64 L362.83 226.09 L363.91 225.54 L365 225 L366.08 224.47 L367.17 223.94 L368.26 223.41 L369.35 222.89 L370.44 222.37 L371.53 221.86 L372.63 221.35 L373.73 220.85 L374.83 220.35 L375.93 219.85 L377.04 219.35 L378.14 218.86 L379.25 218.37 L380.36 217.89 L381.47 217.4 L382.58 216.92 L383.69 216.44 L384.8 215.97 L385.92 215.49 L387.03 215.02 L388.15 214.55 L389.27 214.08 L390.39 213.62 L391.51 213.15 L392.63 212.69 L393.75 212.22 L394.87 211.76 L395.99 211.3 L397.11 210.84 L398.23 210.38 L399.35 209.92 L400.48 209.46 L401.6 209 M390.6 214.3 L392.3 242.3 M404.9 236.6 L403.91 237.02 L402.83 237.51 L401.56 238.11 L400 238.9 L399.27 239.28 L398.49 239.7 L397.66 240.15 L396.77 240.63 L395.83 241.14 L394.85 241.69 L393.84 242.25 L392.78 242.84 L391.69 243.46 L390.58 244.09 L389.43 244.73 L388.27 245.4 L387.08 246.07 L385.88 246.76 L384.67 247.45 L383.45 248.15 L382.23 248.85 L381.01 249.55 L379.79 250.25 L378.57 250.95 L377.37 251.64 L376.17 252.33 L375 253 L373.87 253.65 L372.76 254.28 L371.67 254.91 L370.59 255.53 L369.53 256.14 L368.47 256.74 L367.42 257.34 L366.39 257.94 L365.35 258.53 L364.32 259.13 L363.29 259.72 L362.26 260.31 L361.23 260.91 L360.2 261.5 L359.16 262.11 L358.12 262.71 L357.06 263.33 L356 263.95 L354.92 264.58 L353.83 265.22 L352.73 265.87 L351.61 266.53 L350.46 267.21 L349.3 267.9 L348.35 268.46 L347.39 269.04 L346.42 269.62 L345.43 270.21 L344.43 270.81 L343.42 271.42 L342.4 272.03 L341.36 272.65 L340.32 273.27 L339.27 273.9 L338.22 274.53 L337.15 275.16 L336.08 275.8 L335 276.44 L333.92 277.09 L332.83 277.73 L331.74 278.37 L330.64 279.02 L329.54 279.66 L328.44 280.31 L327.34 280.95 L326.23 281.59 L325.13 282.22 L324.02 282.86 L322.92 283.48 L321.82 284.11 L320.72 284.73 L319.63 285.34 L318.53 285.95 L317.45 286.55 L316.36 287.14 L315.28 287.72 L314.21 288.3 L313.15 288.86 L312.09 289.42 L311.04 289.97 L310 290.5 L308.64 291.19 L307.31 291.86 L305.99 292.51 L304.69 293.14 L303.42 293.76 L302.17 294.37 L300.96 294.97 L299.77 295.55 L298.61 296.13 L297.49 296.7 L296.4 297.26 L295.35 297.82 L294.34 298.38 L293.37 298.93 L292.44 299.49 L291.56 300.05 L290.73 300.61 L289.94 301.17 L289.21 301.74 L288.53 302.32 L287.9 302.9 L286.89 304 L286.04 305.12 L285.32 306.27 L284.68 307.44 L284.11 308.62 L283.56 309.81 L283 311 L282.43 312.16 L281.83 313.31 L281.23 314.46 L280.63 315.61 L280.05 316.75 L279.5 317.88 L279 319 L278.54 320.17 L278.13 321.34 L277.78 322.5 L277.48 323.66 L277.23 324.83 L277 326 L276.77 327.4 L276.58 328.81 L276.44 330.22 L276.35 331.62 L276.3 333 L276.3 334.29 L276.34 335.56 L276.41 336.81 L276.5 338.06 L276.6 339.3 M404.9 236.6 L406.24 236.19 L407.6 235.81 L409 235.5 L410.47 235.29 L411.96 235.16 L413.4 235.1 L414.64 235.08 L415.83 235.11 L417 235.2 L418.19 235.36 L419.39 235.57 L420.6 235.8 M420.6 235.8 L421.74 236.33 L422.88 236.86 L424.02 237.4 L425.17 237.93 L426.31 238.46 L427.44 238.99 L428.58 239.52 L429.72 240.05 L430.85 240.57 L431.98 241.1 L433.11 241.63 L434.24 242.15 L435.37 242.67 L436.49 243.19 L437.61 243.71 L438.72 244.23 L439.83 244.75 L440.94 245.26 L442.05 245.77 L443.15 246.28 L444.24 246.78 L445.33 247.29 L446.42 247.79 L447.5 248.29 L448.58 248.78 L449.65 249.27 L450.71 249.76 L451.77 250.25 L452.82 250.73 L453.87 251.21 L454.91 251.68 L455.94 252.16 L456.97 252.62 L457.99 253.09 L459 253.55 L460 254 L461.06 254.48 L462.11 254.95 L463.16 255.42 L464.19 255.89 L465.23 256.36 L466.26 256.82 L467.29 257.28 L468.32 257.74 L469.34 258.2 L470.37 258.66 L471.4 259.12 L472.43 259.58 L473.47 260.05 L474.51 260.52 L475.56 260.99 L476.61 261.46 L477.68 261.94 L478.75 262.42 L479.84 262.91 L480.93 263.4 L482.04 263.9 L483.16 264.41 L484.3 264.92 L485.46 265.45 L486.63 265.98 L487.82 266.52 L489.03 267.07 L490.26 267.63 L491.51 268.21 L492.78 268.79 L494.08 269.39 L495.4 270 L496.45 270.48 L497.51 270.98 L498.58 271.47 L499.67 271.98 L500.77 272.49 L501.88 273.01 L503.01 273.54 L504.14 274.07 L505.29 274.6 L506.44 275.14 L507.6 275.68 L508.77 276.23 L509.94 276.78 L511.12 277.34 L512.31 277.9 L513.5 278.46 L514.69 279.02 L515.89 279.58 L517.09 280.15 L518.29 280.71 L519.49 281.28 L520.69 281.85 L521.89 282.41 L523.09 282.98 L524.28 283.54 L525.48 284.11 L526.66 284.67 L527.85 285.23 L529.03 285.79 L530.2 286.34 L531.36 286.89 L532.52 287.44 L533.67 287.98 L534.81 288.52 L535.94 289.05 L537.06 289.58 L538.16 290.1 L539.26 290.62 L540.34 291.13 L541.41 291.64 L542.46 292.13 L543.5 292.62 L544.52 293.1 L545.53 293.58 L546.52 294.04 L547.49 294.5 L548.44 294.94 L549.37 295.38 L550.28 295.8 L551.17 296.22 L552.04 296.62 L552.88 297.02 L553.7 297.4 L555.24 298.11 L556.69 298.78 L558.05 299.42 L559.34 300.02 L560.55 300.59 L561.7 301.13 L562.79 301.66 L563.82 302.16 L564.8 302.66 L565.73 303.15 L566.62 303.63 L567.48 304.11 L568.3 304.6 L569.1 305.1 L570.2 305.83 L571.27 306.58 L572.29 307.35 L573.28 308.13 L574.22 308.92 L575.13 309.71 L576 310.5 L577.05 311.5 L578.04 312.51 L578.96 313.58 L579.82 314.73 L580.6 316 L581.18 317.12 L581.7 318.32 L582.14 319.58 L582.5 320.89 L582.75 322.22 L582.89 323.56 L582.9 324.9 L582.76 326.34 L582.47 327.74 L582.05 329.08 L581.54 330.34 L580.95 331.52 L580.3 332.6 L579.45 333.78 L578.55 334.81 L577.57 335.74 L576.5 336.6 L575.51 337.31 L574.46 338 L573.36 338.67 L572.24 339.34 L571.1 340 M571.1 340 L421.4 426.4 M421.4 426.4 L420.04 427.17 L418.6 427.9 L417.38 428.41 L416.05 428.86 L414.6 429.2 L413.24 429.4 L411.83 429.52 L410.4 429.59 L409 429.6 L407.37 429.57 L405.82 429.45 L404.3 429.2 L402.81 428.8 L401.37 428.25 L400 427.6 L398.81 426.91 L397.69 426.17 L396.6 425.4 M396.6 425.4 L276.4 339.3 M284.6 309.6 L286.03 308.75 L287.5 308 L289.05 307.47 L290.7 307.3 L291.97 307.49 L293.25 307.94 L294.5 308.6 L295.51 309.29 L296.49 310.08 L297.45 310.92 L298.4 311.8 M414.2 235.4 L414.2 247.6 M412.9 379.1 L412.62 380.31 L412.34 381.52 L412.06 382.73 L411.79 383.94 L411.53 385.15 L411.27 386.36 L411.03 387.57 L410.81 388.79 L410.6 390 L410.41 391.23 L410.23 392.47 L410.07 393.71 L409.93 394.97 L409.8 396.23 L409.68 397.5 L409.58 398.78 L409.48 400.08 L409.4 401.4 L409.33 402.59 L409.27 403.8 L409.22 405.01 L409.17 406.24 L409.13 407.48 L409.1 408.72 L409.07 409.97 L409.04 411.23 L409.02 412.48 L409.01 413.74 L409 415 L408.99 416.27 L408.99 417.54 L409 418.8 L409 420.07 L409.01 421.33 L409.02 422.6 L409.03 423.86 L409.05 425.12 L409.07 426.38 L409.08 427.64 L409.1 428.9 M548.6 301.2 L549.76 301.45 L550.93 301.7 L552.09 301.95 L553.26 302.21 L554.44 302.49 L555.62 302.77 L556.8 303.08 L558 303.4 L559.23 303.75 L560.46 304.12 L561.68 304.52 L562.89 304.94 L564.07 305.39 L565.22 305.87 L566.34 306.37 L567.4 306.9 L568.57 307.55 L569.67 308.25 L570.71 308.99 L571.69 309.77 L572.61 310.61 L573.5 311.5 L574.35 312.45 L575.15 313.45 L575.9 314.51 L576.58 315.62 L577.18 316.79 L577.7 318 L578.09 319.15 L578.41 320.34 L578.68 321.55 L578.9 322.79 L579.09 324.05 L579.25 325.32 L579.4 326.6 M277.7 340.2 L277.7 360 M279.3 341.5 L279.3 360.6 M277.9 359.6 L397.1 439.8 M421.4 440.7 L562.6 360.6 L562.1 346 M397.1 426.3 L397.12 427.46 L397.14 428.61 L397.16 429.77 L397.18 430.92 L397.2 432.08 L397.23 433.24 L397.25 434.4 L397.27 435.56 L397.29 436.72 L397.31 437.89 L397.34 439.06 L397.36 440.23 L397.38 441.4 L397.41 442.57 L397.43 443.75 L397.46 444.93 L397.48 446.12 L397.51 447.31 L397.53 448.5 L397.56 449.7 L397.59 450.9 L397.62 452.11 L397.65 453.32 L397.68 454.54 L397.71 455.76 L397.74 456.99 L397.77 458.22 L397.81 459.46 L397.84 460.71 L397.88 461.96 L397.92 463.22 L397.95 464.49 L397.99 465.76 L398.03 467.04 L398.07 468.33 L398.12 469.63 L398.16 470.93 L398.21 472.25 L398.25 473.57 L398.3 474.9 L398.34 476.05 L398.39 477.2 L398.43 478.36 L398.47 479.53 L398.52 480.7 L398.57 481.88 L398.61 483.06 L398.66 484.25 L398.71 485.44 L398.76 486.64 L398.81 487.84 L398.86 489.04 L398.91 490.25 L398.96 491.46 L399.02 492.68 L399.07 493.9 L399.12 495.12 L399.17 496.34 L399.23 497.57 L399.28 498.79 L399.33 500.02 L399.39 501.26 L399.44 502.49 L399.49 503.72 L399.55 504.95 L399.6 506.19 L399.65 507.42 L399.71 508.66 L399.76 509.89 L399.81 511.13 L399.87 512.36 L399.92 513.6 L399.97 514.83 L400.02 516.06 L400.07 517.29 L400.12 518.51 L400.17 519.74 L400.22 520.96 L400.27 522.18 L400.32 523.4 L400.37 524.61 L400.42 525.82 L400.46 527.03 L400.51 528.23 L400.55 529.43 L400.59 530.63 L400.64 531.82 L400.68 533 L400.72 534.18 L400.76 535.36 L400.79 536.53 L400.83 537.69 L400.87 538.85 L400.9 540 L400.94 541.34 L400.97 542.67 L401.01 544 L401.04 545.32 L401.07 546.62 L401.1 547.92 L401.13 549.22 L401.16 550.5 L401.19 551.78 L401.21 553.05 L401.23 554.32 L401.25 555.58 L401.27 556.83 L401.29 558.08 L401.31 559.32 L401.33 560.55 L401.34 561.78 L401.36 563 L401.37 564.22 L401.38 565.44 L401.39 566.65 L401.4 567.86 L401.41 569.06 L401.42 570.26 L401.43 571.45 L401.44 572.64 L401.45 573.83 L401.45 575.02 L401.46 576.2 L401.46 577.38 L401.47 578.56 L401.47 579.74 L401.48 580.91 L401.48 582.08 L401.48 583.25 L401.49 584.42 L401.49 585.59 L401.49 586.76 L401.5 587.93 L401.5 589.1 M421.4 426.8 L421.38 427.92 L421.36 429.04 L421.34 430.16 L421.32 431.29 L421.3 432.41 L421.28 433.54 L421.26 434.66 L421.24 435.8 L421.22 436.93 L421.2 438.07 L421.17 439.21 L421.15 440.35 L421.13 441.5 L421.11 442.66 L421.09 443.82 L421.07 444.98 L421.05 446.15 L421.03 447.33 L421.01 448.51 L420.99 449.71 L420.96 450.9 L420.94 452.11 L420.92 453.33 L420.9 454.55 L420.88 455.78 L420.85 457.02 L420.83 458.27 L420.81 459.54 L420.79 460.81 L420.76 462.09 L420.74 463.38 L420.72 464.69 L420.7 466.01 L420.67 467.33 L420.65 468.68 L420.62 470.03 L420.6 471.4 L420.58 472.51 L420.56 473.63 L420.54 474.76 L420.52 475.9 L420.5 477.04 L420.48 478.19 L420.46 479.35 L420.44 480.52 L420.42 481.69 L420.4 482.87 L420.38 484.05 L420.36 485.24 L420.33 486.44 L420.31 487.64 L420.29 488.85 L420.27 490.06 L420.25 491.27 L420.23 492.49 L420.2 493.71 L420.18 494.94 L420.16 496.17 L420.14 497.4 L420.11 498.63 L420.09 499.87 L420.07 501.11 L420.04 502.35 L420.02 503.59 L419.99 504.83 L419.97 506.07 L419.95 507.32 L419.92 508.56 L419.9 509.8 L419.87 511.05 L419.85 512.29 L419.82 513.53 L419.79 514.77 L419.77 516.01 L419.74 517.25 L419.72 518.48 L419.69 519.71 L419.66 520.94 L419.64 522.17 L419.61 523.39 L419.58 524.61 L419.55 525.83 L419.52 527.04 L419.5 528.24 L419.47 529.45 L419.44 530.64 L419.41 531.83 L419.38 533.02 L419.35 534.2 L419.32 535.37 L419.29 536.54 L419.26 537.7 L419.23 538.85 L419.2 540 L419.16 541.37 L419.12 542.73 L419.09 544.08 L419.05 545.42 L419.01 546.75 L418.97 548.07 L418.93 549.38 L418.89 550.68 L418.85 551.97 L418.81 553.26 L418.77 554.53 L418.73 555.8 L418.69 557.06 L418.64 558.31 L418.6 559.55 L418.56 560.79 L418.52 562.02 L418.47 563.24 L418.43 564.46 L418.39 565.67 L418.35 566.88 L418.3 568.08 L418.26 569.27 L418.21 570.46 L418.17 571.65 L418.13 572.83 L418.08 574.01 L418.04 575.19 L417.99 576.36 L417.95 577.53 L417.9 578.69 L417.86 579.85 L417.82 581.01 L417.77 582.17 L417.73 583.33 L417.68 584.49 L417.64 585.64 L417.59 586.79 L417.55 587.95 L417.5 589.1 M401.5 589.1 L402.61 590.02 L403.76 590.88 L405 591.6 L406.42 592.15 L407.93 592.49 L409.5 592.6 L411.07 592.49 L412.58 592.15 L414 591.6 L415.24 590.88 L416.39 590.02 L417.5 589.1 M554 365.7 L554.02 367.04 L554.04 368.38 L554.06 369.72 L554.08 371.06 L554.11 372.4 L554.13 373.73 L554.15 375.07 L554.17 376.41 L554.19 377.74 L554.21 379.08 L554.23 380.41 L554.25 381.74 L554.28 383.07 L554.3 384.4 L554.32 385.73 L554.34 387.05 L554.36 388.37 L554.38 389.69 L554.4 391.01 L554.42 392.33 L554.45 393.64 L554.47 394.95 L554.49 396.26 L554.51 397.56 L554.53 398.86 L554.55 400.16 L554.57 401.45 L554.59 402.75 L554.62 404.03 L554.64 405.32 L554.66 406.6 L554.68 407.87 L554.7 409.14 L554.72 410.41 L554.75 411.67 L554.77 412.93 L554.79 414.19 L554.81 415.44 L554.83 416.68 L554.85 417.92 L554.87 419.15 L554.9 420.38 L554.92 421.61 L554.94 422.82 L554.96 424.04 L554.98 425.24 L555.01 426.44 L555.03 427.64 L555.05 428.82 L555.07 430.01 L555.09 431.18 L555.11 432.35 L555.14 433.51 L555.16 434.67 L555.18 435.82 L555.2 436.96 L555.23 438.09 L555.25 439.22 L555.27 440.34 L555.29 441.45 L555.31 442.55 L555.34 443.65 L555.36 444.73 L555.38 445.81 L555.4 446.88 L555.43 447.95 L555.45 449 L555.47 450.05 L555.49 451.08 L555.52 452.11 L555.54 453.13 L555.56 454.14 L555.59 455.14 L555.61 456.13 L555.63 457.11 L555.65 458.09 L555.68 459.05 L555.7 460 L555.74 461.47 L555.77 462.92 L555.81 464.35 L555.85 465.76 L555.88 467.14 L555.92 468.5 L555.96 469.84 L555.99 471.17 L556.03 472.47 L556.07 473.75 L556.1 475.02 L556.14 476.28 L556.18 477.51 L556.22 478.74 L556.25 479.94 L556.29 481.14 L556.33 482.32 L556.37 483.49 L556.41 484.65 L556.44 485.8 L556.48 486.94 L556.52 488.08 L556.56 489.2 L556.6 490.32 L556.63 491.43 L556.67 492.54 L556.71 493.64 L556.75 494.73 L556.79 495.83 L556.82 496.92 L556.86 498.01 L556.9 499.1 M577.7 336 L577.69 337.13 L577.69 338.27 L577.68 339.4 L577.67 340.53 L577.67 341.67 L577.66 342.81 L577.65 343.94 L577.65 345.08 L577.64 346.22 L577.63 347.36 L577.62 348.51 L577.61 349.65 L577.61 350.8 L577.6 351.95 L577.59 353.11 L577.58 354.26 L577.57 355.42 L577.56 356.59 L577.55 357.75 L577.53 358.93 L577.52 360.1 L577.51 361.28 L577.5 362.46 L577.48 363.65 L577.47 364.84 L577.45 366.04 L577.44 367.24 L577.42 368.45 L577.4 369.66 L577.38 370.88 L577.36 372.11 L577.35 373.34 L577.32 374.58 L577.3 375.82 L577.28 377.07 L577.26 378.33 L577.23 379.6 L577.21 380.87 L577.18 382.15 L577.15 383.44 L577.13 384.73 L577.1 386.04 L577.06 387.35 L577.03 388.67 L577 390 L576.97 391.18 L576.94 392.37 L576.91 393.57 L576.87 394.77 L576.84 395.97 L576.81 397.19 L576.77 398.4 L576.73 399.63 L576.7 400.85 L576.66 402.08 L576.62 403.32 L576.58 404.56 L576.54 405.8 L576.5 407.04 L576.46 408.29 L576.42 409.54 L576.38 410.79 L576.34 412.04 L576.3 413.3 L576.25 414.55 L576.21 415.81 L576.17 417.07 L576.12 418.32 L576.08 419.58 L576.04 420.84 L575.99 422.09 L575.95 423.35 L575.9 424.6 L575.86 425.85 L575.81 427.1 L575.77 428.35 L575.72 429.59 L575.67 430.83 L575.63 432.07 L575.58 433.31 L575.54 434.54 L575.49 435.76 L575.45 436.98 L575.4 438.2 L575.36 439.41 L575.31 440.62 L575.27 441.82 L575.22 443.02 L575.18 444.2 L575.13 445.39 L575.09 446.56 L575.05 447.73 L575 448.89 L574.96 450.04 L574.92 451.18 L574.88 452.32 L574.84 453.45 L574.8 454.56 L574.75 455.67 L574.72 456.77 L574.68 457.86 L574.64 458.93 L574.6 460 L574.55 461.43 L574.5 462.84 L574.45 464.22 L574.41 465.6 L574.36 466.95 L574.32 468.28 L574.27 469.6 L574.23 470.91 L574.19 472.2 L574.15 473.47 L574.11 474.73 L574.07 475.98 L574.03 477.21 L573.99 478.43 L573.96 479.64 L573.92 480.84 L573.89 482.03 L573.85 483.21 L573.82 484.39 L573.78 485.55 L573.75 486.71 L573.72 487.85 L573.68 489 L573.65 490.13 L573.62 491.27 L573.59 492.39 L573.56 493.52 L573.52 494.64 L573.49 495.75 L573.46 496.87 L573.43 497.99 L573.4 499.1 M556.9 499.1 L558.04 500.02 L559.23 500.88 L560.5 501.6 L561.95 502.15 L563.5 502.49 L565.1 502.6 L566.33 502.54 L567.53 502.35 L568.7 502.04 L569.8 501.6 L571.08 500.88 L572.27 500.02 L573.4 499.1 M542.9 371.7 L554.3 376.9 M535.1 376.3 L554.4 385.4 M283.6 385 L350.7 432.1 M380.3 453.4 L397.6 465.5 M280.7 393.6 L339.3 434.3 M366.6 453.4 L398.3 475.2 M283.6 385 L281.9 385.04 L280.4 385.6 L279.52 386.59 L278.96 387.94 L278.8 389.4 L279.12 390.87 L279.82 392.26 L280.7 393.6"/>
</g>
<g fill="none" stroke="#333" stroke-width="1.15" stroke-dasharray="6.3 3.3">
<path d="M229.8 16 L229.8 123.6 M394.3 15 L394.3 46 M230.9 488 L230.9 685.7 M240.8 486 L240.8 651.4 M253.5 491 L253.5 620 M402.1 592 L402.1 620 M409.5 594 L409.5 685.7 M417.6 592 L417.6 620 M557 500.5 L557 616 M573.2 500.5 L573.2 644.5"/>
</g>
<g fill="none" stroke="#333" stroke-width="1.3" stroke-dasharray="4.4 2.45">
<path d="M130 123.7 L229.8 123.7 M128 485 L241 485 M171.4 304.3 L286.5 304.3 M209 358.6 L275.5 358.6"/>
</g>
<rect x="313" y="156.7" width="47.2" height="17.2" fill="#fff"/>
<g fill="none" stroke="#141414" stroke-width="1.05">
<path d="M239.1 21.2 L292 21.2 M339.6 21.2 L385 21.2 M137.1 133.5 L137.1 269 M137.1 289.6 L137.1 475.7 M181.4 313.9 L181.4 372.9 M181.4 394.9 L181.4 475.7 M223.2 368.2 L223.2 409 M223.2 429.4 L223.2 475.7 M318.14 85.49 L353.76 252.31 M357.42 274.09 L497.48 368.21 M404.68 412.59 L567.92 319.51 M385.9 441.3 L385.9 447 M385.9 482.4 L385.9 580.7 M263 612.9 L308.6 612.9 M358 612.9 L392.7 612.9 M250.2 643.4 L302.5 643.4 M352 643.4 L400.2 643.4 M240.2 674.9 L298 674.9 M347.8 674.9 L400.2 674.9 M427 612.9 L470 612.9 M518.6 612.9 L547.8 612.9 M418.9 643.4 L470 643.4 M518.6 643.4 L563.8 643.4"/>
</g>
<path d="M229.8 21.2 L240.1 16.85 L239.4 21.2 L240.1 25.55 Z M394.3 21.2 L384 25.55 L384.7 21.2 L384 16.85 Z M137.1 124.2 L141.45 134.5 L137.1 133.8 L132.75 134.5 Z M137.1 485 L132.75 474.7 L137.1 475.4 L141.45 474.7 Z M181.4 304.6 L185.75 314.9 L181.4 314.2 L177.05 314.9 Z M181.4 485 L177.05 474.7 L181.4 475.4 L185.75 474.7 Z M223.2 358.9 L227.55 369.2 L223.2 368.5 L218.85 369.2 Z M223.2 485 L218.85 474.7 L223.2 475.4 L227.55 474.7 Z M316.2 76.4 L322.6 85.56 L318.2 85.79 L314.1 87.38 Z M355.7 261.4 L349.3 252.24 L353.7 252.01 L357.8 250.42 Z M349.7 268.9 L360.68 271.03 L357.67 274.25 L355.82 278.26 Z M505.2 373.4 L494.22 371.27 L497.23 368.05 L499.08 364.04 Z M396.6 417.2 L403.39 408.32 L404.94 412.44 L407.7 415.88 Z M576 314.9 L569.21 323.78 L567.66 319.66 L564.9 316.22 Z M385.9 432 L390.25 442.3 L385.9 441.6 L381.55 442.3 Z M385.9 456.3 L381.55 446 L385.9 446.7 L390.25 446 Z M385.9 473.1 L390.25 483.4 L385.9 482.7 L381.55 483.4 Z M385.9 590 L381.55 579.7 L385.9 580.4 L390.25 579.7 Z M253.7 612.9 L264 608.55 L263.3 612.9 L264 617.25 Z M402 612.9 L391.7 617.25 L392.4 612.9 L391.7 608.55 Z M240.9 643.4 L251.2 639.05 L250.5 643.4 L251.2 647.75 Z M409.5 643.4 L399.2 647.75 L399.9 643.4 L399.2 639.05 Z M230.9 674.9 L241.2 670.55 L240.5 674.9 L241.2 679.25 Z M409.5 674.9 L399.2 679.25 L399.9 674.9 L399.2 670.55 Z M417.7 612.9 L428 608.55 L427.3 612.9 L428 617.25 Z M557.1 612.9 L546.8 617.25 L547.5 612.9 L546.8 608.55 Z M409.6 643.4 L419.9 639.05 L419.2 643.4 L419.9 647.75 Z M573.1 643.4 L562.8 647.75 L563.5 643.4 L562.8 639.05 Z" fill="#000"/>
<rect x="313" y="156.7" width="47.2" height="17.2" fill="#fff"/>
<g>
<text transform="translate(337.2 170.3) scale(1.025 1.05)">16.25”</text>
<text transform="translate(316.2 26.3) scale(1.025 1.05)">17.00”</text>
<text transform="translate(140.4 284.3) scale(1.025 1.05)">35.00”</text>
<text transform="translate(182.3 390) scale(1.025 1.05)">19.50”</text>
<text transform="translate(226.3 424.6) scale(1.025 1.05)">14.50”</text>
<text transform="translate(441.6 314.3) scale(1.025 1.05)">18.50”</text>
<text transform="translate(447.6 374.5) scale(1.025 1.05)">20.00”</text>
<text transform="translate(360.4 449) scale(1.025 1.05)">3.25”</text>
<text transform="translate(363.6 523.7) scale(1.025 1.05)">10.50”</text>
<text transform="translate(334.3 617.1) scale(1.025 1.05)">17.00”</text>
<text transform="translate(327.9 648.6) scale(1.025 1.05)">19.75”</text>
<text transform="translate(323.9 680) scale(1.025 1.05)">22.50”</text>
<text transform="translate(495.2 617.1) scale(1.025 1.05)">16.00”</text>
<text transform="translate(495.2 648.6) scale(1.025 1.05)">18.50”</text>
</g>
</svg>
</body>
</html>
